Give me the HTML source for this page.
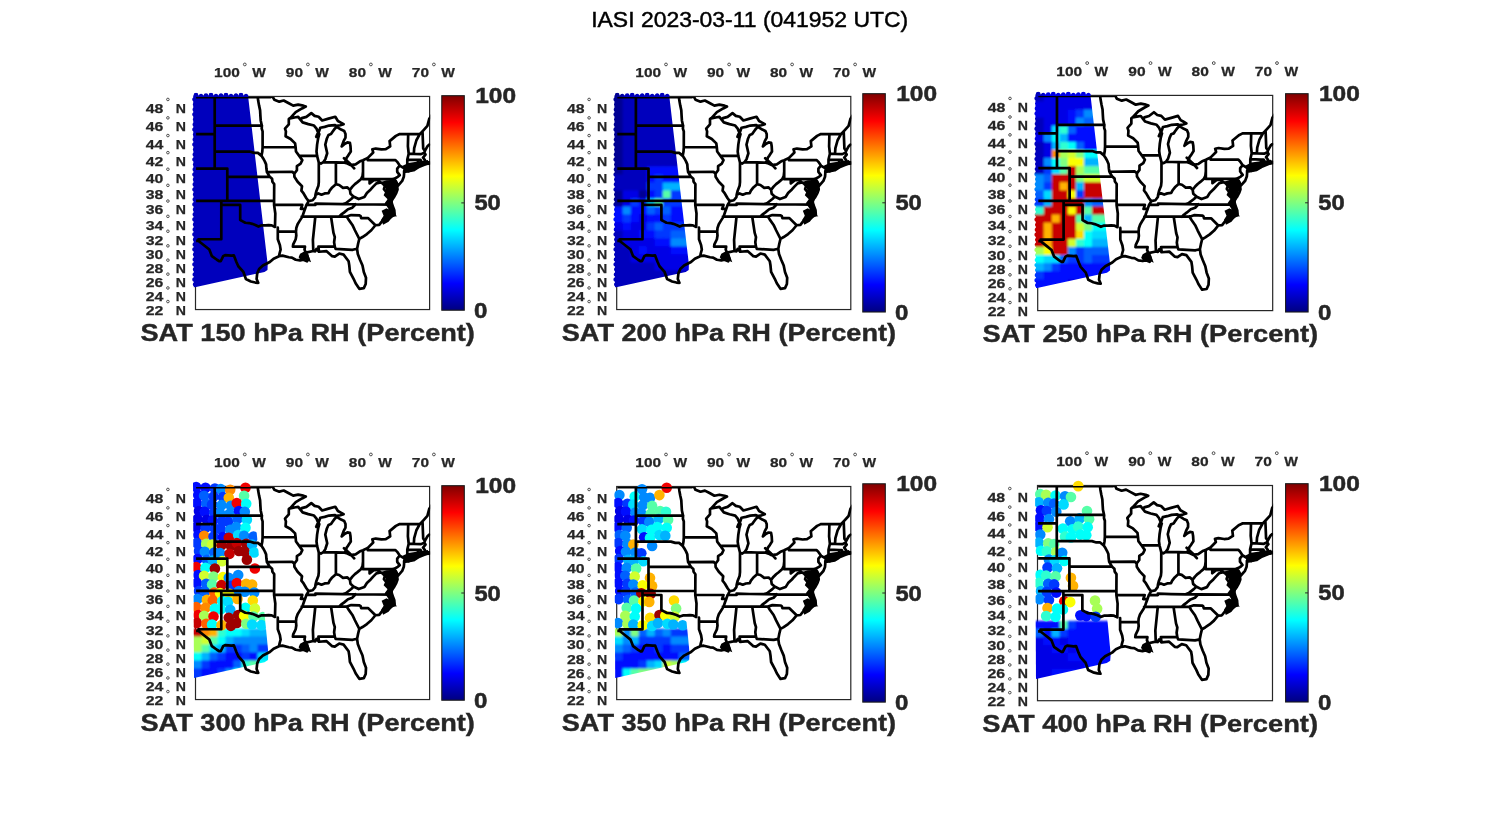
<!DOCTYPE html>
<html><head><meta charset="utf-8"><style>
html,body{margin:0;padding:0;background:#fff;}
svg{display:block;will-change:transform;}
text{font-family:"Liberation Sans",sans-serif;fill:#262626;}
.ax{font-size:13.4px;font-weight:bold;stroke:#262626;stroke-width:0.25px;}
.deg{font-size:7px;font-weight:normal;}
.cb{font-size:21.5px;font-weight:bold;stroke:#262626;stroke-width:0.5px;}
.st{font-size:24px;font-weight:bold;stroke:#262626;stroke-width:0.4px;}
.ti{font-size:22px;fill:#000;stroke:#000;stroke-width:0.45px;}
</style></head><body>
<svg width="1500" height="825" viewBox="0 0 1500 825">
<defs>
<clipPath id="swath"><path d="M-2.3 -1.0 L52.5 -1.0 L72.2 168 L72 173.5 L69 175.5 L-1.7 191 Z"/><path d="M-1.9 -1.3a2.4 2.4 0 1 0 4.8 0a2.4 2.4 0 1 0 -4.8 0ZM3.1 -0.3a2.4 2.4 0 1 0 4.8 0a2.4 2.4 0 1 0 -4.8 0ZM8.1 -0.8a2.4 2.4 0 1 0 4.8 0a2.4 2.4 0 1 0 -4.8 0ZM13.1 -1.3a2.4 2.4 0 1 0 4.8 0a2.4 2.4 0 1 0 -4.8 0ZM18.1 -0.3a2.4 2.4 0 1 0 4.8 0a2.4 2.4 0 1 0 -4.8 0ZM23.1 -0.8a2.4 2.4 0 1 0 4.8 0a2.4 2.4 0 1 0 -4.8 0ZM28.1 -1.3a2.4 2.4 0 1 0 4.8 0a2.4 2.4 0 1 0 -4.8 0ZM33.1 -0.3a2.4 2.4 0 1 0 4.8 0a2.4 2.4 0 1 0 -4.8 0ZM38.1 -0.8a2.4 2.4 0 1 0 4.8 0a2.4 2.4 0 1 0 -4.8 0ZM43.1 -1.3a2.4 2.4 0 1 0 4.8 0a2.4 2.4 0 1 0 -4.8 0ZM48.1 -0.3a2.4 2.4 0 1 0 4.8 0a2.4 2.4 0 1 0 -4.8 0ZM-3.3 3.0a2.3 2.3 0 1 0 4.6 0a2.3 2.3 0 1 0 -4.6 0ZM-2.7 8.0a2.3 2.3 0 1 0 4.6 0a2.3 2.3 0 1 0 -4.6 0ZM-3.0 13.0a2.3 2.3 0 1 0 4.6 0a2.3 2.3 0 1 0 -4.6 0ZM-3.3 18.0a2.3 2.3 0 1 0 4.6 0a2.3 2.3 0 1 0 -4.6 0ZM-2.7 23.0a2.3 2.3 0 1 0 4.6 0a2.3 2.3 0 1 0 -4.6 0ZM-3.0 28.0a2.3 2.3 0 1 0 4.6 0a2.3 2.3 0 1 0 -4.6 0ZM-3.3 33.0a2.3 2.3 0 1 0 4.6 0a2.3 2.3 0 1 0 -4.6 0ZM-2.7 38.0a2.3 2.3 0 1 0 4.6 0a2.3 2.3 0 1 0 -4.6 0ZM-3.0 43.0a2.3 2.3 0 1 0 4.6 0a2.3 2.3 0 1 0 -4.6 0ZM-3.3 48.0a2.3 2.3 0 1 0 4.6 0a2.3 2.3 0 1 0 -4.6 0ZM-2.7 53.0a2.3 2.3 0 1 0 4.6 0a2.3 2.3 0 1 0 -4.6 0ZM-3.0 58.0a2.3 2.3 0 1 0 4.6 0a2.3 2.3 0 1 0 -4.6 0ZM-3.3 63.0a2.3 2.3 0 1 0 4.6 0a2.3 2.3 0 1 0 -4.6 0ZM-2.7 68.0a2.3 2.3 0 1 0 4.6 0a2.3 2.3 0 1 0 -4.6 0ZM-3.0 73.0a2.3 2.3 0 1 0 4.6 0a2.3 2.3 0 1 0 -4.6 0ZM-3.3 78.0a2.3 2.3 0 1 0 4.6 0a2.3 2.3 0 1 0 -4.6 0ZM-2.7 83.0a2.3 2.3 0 1 0 4.6 0a2.3 2.3 0 1 0 -4.6 0ZM-3.0 88.0a2.3 2.3 0 1 0 4.6 0a2.3 2.3 0 1 0 -4.6 0ZM-3.3 93.0a2.3 2.3 0 1 0 4.6 0a2.3 2.3 0 1 0 -4.6 0ZM-2.7 98.0a2.3 2.3 0 1 0 4.6 0a2.3 2.3 0 1 0 -4.6 0ZM-3.0 103.0a2.3 2.3 0 1 0 4.6 0a2.3 2.3 0 1 0 -4.6 0ZM-3.3 108.0a2.3 2.3 0 1 0 4.6 0a2.3 2.3 0 1 0 -4.6 0ZM-2.7 113.0a2.3 2.3 0 1 0 4.6 0a2.3 2.3 0 1 0 -4.6 0ZM-3.0 118.0a2.3 2.3 0 1 0 4.6 0a2.3 2.3 0 1 0 -4.6 0ZM-3.3 123.0a2.3 2.3 0 1 0 4.6 0a2.3 2.3 0 1 0 -4.6 0ZM-2.7 128.0a2.3 2.3 0 1 0 4.6 0a2.3 2.3 0 1 0 -4.6 0ZM-3.0 133.0a2.3 2.3 0 1 0 4.6 0a2.3 2.3 0 1 0 -4.6 0ZM-3.3 138.0a2.3 2.3 0 1 0 4.6 0a2.3 2.3 0 1 0 -4.6 0ZM-2.7 143.0a2.3 2.3 0 1 0 4.6 0a2.3 2.3 0 1 0 -4.6 0ZM-3.0 148.0a2.3 2.3 0 1 0 4.6 0a2.3 2.3 0 1 0 -4.6 0ZM-3.3 153.0a2.3 2.3 0 1 0 4.6 0a2.3 2.3 0 1 0 -4.6 0ZM-2.7 158.0a2.3 2.3 0 1 0 4.6 0a2.3 2.3 0 1 0 -4.6 0ZM-3.0 163.0a2.3 2.3 0 1 0 4.6 0a2.3 2.3 0 1 0 -4.6 0ZM-3.3 168.0a2.3 2.3 0 1 0 4.6 0a2.3 2.3 0 1 0 -4.6 0ZM-2.7 173.0a2.3 2.3 0 1 0 4.6 0a2.3 2.3 0 1 0 -4.6 0ZM-3.0 178.0a2.3 2.3 0 1 0 4.6 0a2.3 2.3 0 1 0 -4.6 0ZM-3.3 183.0a2.3 2.3 0 1 0 4.6 0a2.3 2.3 0 1 0 -4.6 0ZM-2.7 188.0a2.3 2.3 0 1 0 4.6 0a2.3 2.3 0 1 0 -4.6 0Z"/></clipPath><clipPath id="swath2"><path d="M-2.5 -7 L56 -7 L73 168 L72.5 173.5 L69 175.8 L-1.5 191.5 Z"/></clipPath><filter id="bl" x="-10%" y="-10%" width="120%" height="120%"><feGaussianBlur stdDeviation="1.1"/></filter><filter id="bl2" x="-10%" y="-10%" width="120%" height="120%"><feGaussianBlur stdDeviation="0.6"/></filter>
<clipPath id="clip"><rect x="0" y="0" width="234.1" height="213.1"/></clipPath>
<linearGradient id="jet" x1="0" y1="0" x2="0" y2="1"><stop offset="0.0000" stop-color="rgb(128,0,0)"/><stop offset="0.1250" stop-color="rgb(255,0,0)"/><stop offset="0.3750" stop-color="rgb(255,255,0)"/><stop offset="0.6250" stop-color="rgb(0,255,255)"/><stop offset="0.8750" stop-color="rgb(0,0,255)"/><stop offset="1.0000" stop-color="rgb(0,0,128)"/></linearGradient>
<g id="map"><path d="M185.5 84.6 L190.5 83.1 L200.5 82.6 L202.0 85.6 L200.0 93.6 L198.0 100.6 L196.5 105.6 L199.5 117.1 L195.5 119.6 L192.0 111.1 L188.5 106.1 L191.5 102.1 L187.5 98.1 L190.0 92.6Z M206.5 68.8 L212.3 65.9 L231.7 63.0 L233.6 66.9 L222.0 71.7 L212.3 75.6 L207.5 73.6Z M104.0 156.6 L108.5 154.1 L112.0 157.1 L115.0 165.1 L109.5 162.6 L104.5 163.1 L102.5 160.1Z M185.5 113.6 L190.5 111.1 L196.0 114.6 L201.0 119.1 L196.5 119.6 L192.5 124.6 L187.0 127.6 L185.0 122.6 L187.5 118.6Z" fill="#000"/><path d="M0.0 0.0 L74.7 0.0 M18.6 0.0 L18.6 71.5 M0.0 37.0 L18.6 37.0 M0.0 71.5 L31.2 71.5 L31.2 79.8 M31.2 79.8 L73.7 79.8 M31.2 79.8 L31.2 103.9 M0.0 103.9 L78.0 103.9 M25.2 103.9 L25.2 142.2 L2.4 142.2 M25.2 107.9 L44.1 107.9 L44.1 122.9 M44.1 122.9 L46.6 124.3 L49.2 125.7 L52.9 126.0 L56.1 126.8 L59.2 127.9 L62.4 129.5 L65.6 128.3 L69.3 128.3 L72.5 128.1 L75.6 128.3 L78.9 129.9 M78.9 129.9 L79.2 116.4 L78.0 107.9 L78.0 103.9 L78.1 87.1 L76.3 84.7 L76.0 81.8 L73.7 79.8 M18.6 28.5 L65.8 28.5 M61.6 0.0 L62.1 3.8 L63.0 8.6 L64.0 13.3 L64.3 18.8 L64.6 23.4 L65.6 28.0 L65.8 28.5 M65.8 28.5 L65.6 31.6 L66.5 34.3 L66.5 50.2 M18.6 54.5 L53.6 54.5 L58.0 55.8 L61.8 55.8 L65.4 58.8 M65.4 58.8 L66.2 54.5 L66.5 50.2 M66.5 50.2 L99.5 50.2 M99.5 50.2 L99.0 46.3 L94.5 41.9 L89.5 39.2 L89.8 34.3 L88.9 31.6 L92.7 27.3 L92.7 22.1 L93.9 21.1 M65.4 58.8 L67.1 61.4 L68.7 64.3 L70.0 67.3 L70.3 71.5 L70.8 75.0 L73.7 79.8 M70.8 75.0 L96.2 74.7 L98.2 76.6 M99.5 50.2 L99.9 54.5 L103.1 58.8 L106.2 63.1 L104.6 66.5 L100.8 69.0 L100.8 73.2 L98.2 76.6 L98.3 79.8 L101.5 84.7 L105.9 89.2 L105.3 93.6 L107.5 96.4 L110.3 101.2 L112.5 104.1 M112.5 104.1 L110.9 107.1 L110.3 107.9 L109.0 111.8 L107.8 114.9 L106.5 118.8 L105.3 121.1 L103.4 124.1 L101.5 127.2 L100.2 131.0 L99.9 134.7 L100.2 138.5 L99.6 142.2 L97.1 147.4 L96.8 149.6 M78.0 107.9 L106.2 107.9 L104.8 111.8 L109.0 111.8 M81.7 130.6 L81.7 134.6 L99.9 134.6 M81.7 134.6 L81.7 142.2 L83.8 148.1 L84.5 152.5 L83.5 156.2 L82.9 159.1 M96.8 149.6 L108.9 149.6 L108.4 152.5 L109.7 155.6 M103.1 58.8 L121.0 58.8 M104.5 22.8 L106.5 25.3 L112.2 27.1 L117.9 28.5 L120.4 31.6 L122.3 36.1 M122.7 65.6 L122.7 85.1 L122.3 88.8 L120.4 93.6 L119.4 97.6 L119.1 100.0 L116.6 103.2 L112.5 104.1 M127.2 65.1 L139.9 65.4 L148.4 65.6 M139.8 65.4 L139.8 87.1 M119.4 97.6 L122.3 96.4 L125.4 97.6 L128.6 96.4 L132.4 96.0 L133.6 93.6 L136.1 90.4 L139.8 87.1 L143.1 87.9 L146.9 90.8 L151.3 90.4 L153.8 92.8 L156.3 89.6 L158.8 87.1 L161.4 85.1 L164.8 82.2 L166.4 79.0 L166.9 74.5 M166.9 63.2 L166.9 82.1 L173.5 82.1 M153.8 92.8 L154.4 96.8 L157.6 99.6 L155.1 102.0 L150.0 105.9 L147.0 107.1 M147.0 107.1 L132.4 106.9 L119.3 106.5 L119.3 107.9 L110.3 107.9 M147.0 107.1 L159.5 107.2 L196.2 107.5 M105.6 119.5 L143.1 119.5 L150.6 119.5 M143.1 119.5 L145.0 117.6 L148.1 115.3 L151.9 112.2 L156.3 110.6 L159.5 107.2 M118.5 119.5 L119.1 120.7 L116.8 142.9 L117.2 154.0 M134.9 119.5 L137.4 135.9 L138.7 140.0 L138.0 145.2 L138.7 149.6 L139.5 151.8 L156.3 152.8 L157.6 152.5 L161.0 151.8 M138.7 149.6 L122.3 149.6 L122.9 154.7 M150.6 119.5 L152.5 122.6 L156.3 127.9 L158.8 133.2 L163.2 141.8 M150.6 119.5 L155.1 118.0 L163.6 118.4 L164.5 119.1 L165.1 121.1 L172.1 121.1 L179.3 128.2 M157.8 99.7 L162.6 102.0 L168.3 100.0 L170.8 96.0 L174.6 92.4 L177.1 89.6 L180.3 86.3 L184.6 85.3 M184.6 85.3 L180.9 83.1 L177.7 83.1 L173.5 86.3 L173.5 82.1 M173.5 82.1 L196.7 82.1 M184.6 85.3 L186.3 86.3 L188.8 88.8 L187.8 92.0 L189.7 94.4 L193.5 96.0 M196.7 82.1 L196.7 92.4 L201.4 92.4 M196.7 82.1 L199.2 81.2 M199.2 81.2 L201.7 79.8 L203.6 78.1 L201.1 74.8 L201.1 71.5 L203.6 68.5 M171.7 60.8 L171.7 63.1 L199.4 63.1 L201.1 64.8 L203.6 68.5 M203.6 68.5 L208.6 71.5 M210.1 71.5 L211.2 69.0 L211.2 62.6 L212.6 56.7 L211.8 49.3 L212.1 37.0 M211.2 62.6 L221.9 62.9 L224.5 62.9 L226.2 67.3 M221.9 62.9 L221.9 68.7 M212.6 56.7 L217.7 56.8 L225.0 57.1 L228.2 55.6 M217.7 56.8 L218.1 51.1 L220.3 43.2 L223.8 36.9 M228.8 53.9 L227.1 51.5 L226.4 34.3 M203.6 37.0 L223.8 36.9 L226.4 34.3 L231.3 28.9 L233.2 21.6 L237.9 14.7 M203.6 37.0 L199.8 38.8 L193.5 44.1 M147.9 61.1 L153.8 66.5 L158.1 71.3 M193.5 44.1 L194.1 49.3 L189.7 52.1 L185.3 52.4 L179.6 51.5 L176.2 52.2 L177.1 55.4 L171.7 60.8 L166.9 63.2 L163.9 64.3 L159.5 67.3 L154.4 68.1 L151.3 66.5 L148.4 65.6 L150.0 63.1 L150.6 60.5 L151.9 58.8 L154.7 54.5 L154.4 49.3 L153.8 45.8 L151.3 45.4 L148.8 46.7 L145.6 49.3 L147.5 44.1 L149.4 40.5 L149.4 37.0 L148.1 33.9 L145.0 32.5 L140.6 29.8 L138.7 31.6 L136.1 35.2 L134.9 37.0 L132.4 37.9 L130.8 41.4 L129.2 47.6 L131.1 56.2 L129.2 62.2 L127.2 65.1 L124.8 66.5 L122.7 65.6 L122.3 63.9 L121.0 58.8 L120.4 54.5 L121.0 47.6 L122.0 41.4 L123.2 37.0 L121.6 37.4 L120.1 39.7 L121.3 37.0 L122.3 36.1 M122.3 36.1 L124.2 30.7 L128.6 29.8 L133.0 28.5 L138.7 28.0 L140.6 28.9 L144.3 28.2 L147.5 27.1 L144.3 25.3 L141.8 23.9 L139.2 19.7 L132.4 21.6 L126.1 23.4 L122.5 19.7 L118.5 18.8 L115.2 16.1 L110.3 19.8 L105.7 21.1 L104.5 22.8 L102.1 19.8 L99.6 20.2 L93.9 21.3 L99.6 15.1 L105.9 11.4 L109.7 9.5 L107.2 8.6 L102.1 7.6 L97.1 8.6 L92.7 6.2 L87.6 3.5 L83.2 4.6 L78.2 2.7 L76.8 0.0 M233.2 47.6 L231.6 48.9 L228.8 53.9 L228.2 55.6 L229.4 57.5 L226.9 60.5 L228.8 63.1 L229.4 65.2 L233.2 65.2 M233.2 66.5 L229.1 66.9 L226.2 67.3 L224.4 65.6 L223.8 68.3 L221.9 68.7 L217.5 69.2 L214.3 69.8 L210.1 71.5 L208.6 73.2 L208.0 74.0 L208.0 76.5 L207.7 79.8 L206.1 83.9 L202.0 88.5 L200.4 85.9 L198.2 83.1 L199.2 81.2 M208.3 74.8 L217.5 73.2 L221.2 70.9 L216.8 71.5 L213.7 71.9 L209.3 72.7 L208.3 74.8 M198.2 83.1 L199.2 85.5 L201.1 89.6 L201.4 92.4 L200.1 96.0 L197.9 100.0 L195.7 102.8 L196.0 99.2 L195.4 94.4 L193.5 91.2 L194.1 87.9 L195.4 84.3 L192.9 85.5 L192.2 88.8 L192.9 93.6 L193.5 96.0 L193.5 99.2 L192.9 103.2 L195.4 104.6 L196.0 107.5 L198.2 113.3 L198.5 117.6 L195.4 119.5 L192.2 121.8 L186.6 123.4 L183.1 127.9 L179.3 128.2 L175.2 133.2 L170.8 137.0 L166.4 140.0 L163.2 141.8 L162.0 146.7 L161.0 151.8 L161.7 156.9 L163.9 162.7 L166.4 168.5 L167.7 174.9 L169.9 180.6 L169.6 186.9 L167.7 191.1 L163.2 191.8 L159.5 186.2 L157.6 182.0 L153.8 174.9 L153.2 168.5 L152.5 164.2 L147.5 157.6 L143.1 156.5 L138.7 159.5 L136.1 159.1 L130.5 154.1 L122.9 154.7 L120.4 151.8 L119.1 154.4 L117.2 154.0 L109.7 155.6 L110.9 157.6 L112.2 162.0 L110.9 164.2 L107.2 162.7 L104.0 163.4 L99.6 162.7 L95.8 160.5 L92.7 160.2 L86.4 158.6 L82.9 159.1 L77.5 161.6 L73.7 164.9 L66.8 168.5 L63.0 172.0 L61.1 176.3 L60.5 182.0 L62.1 185.8 L59.2 185.5 L54.8 184.4 L49.8 182.0 L47.3 174.9 L42.2 169.2 L40.3 164.9 L37.8 158.4 L35.3 158.6 L29.0 158.0 L27.1 159.1 L24.6 164.2 L23.3 164.2 L20.8 162.7 L15.8 159.1 L13.2 152.5 L8.8 148.9 L5.0 145.9 L2.4 143.8 L0.0 143.8" fill="none" stroke="#000" stroke-width="2.7" stroke-linejoin="round" stroke-linecap="round"/></g>
</defs>
<rect width="1500" height="825" fill="#fff"/>
<text class="ti" x="591.2" y="26.6" textLength="317" lengthAdjust="spacingAndGlyphs">IASI 2023-03-11 (041952 UTC)</text>
<g transform="translate(195.50 96.45) scale(1.0000 1.0000)">
<rect x="0" y="0" width="234.1" height="213.1" fill="none" stroke="#262626" stroke-width="1.2"/>
<g clip-path="url(#swath)"><g filter="url(#bl)"><rect x="-10" y="-10" width="9" height="9" fill="#0000bd"/><rect x="-2" y="-10" width="9" height="9" fill="#0000bd"/><rect x="6" y="-10" width="9" height="9" fill="#0000bd"/><rect x="14" y="-10" width="9" height="9" fill="#0000bd"/><rect x="22" y="-10" width="9" height="9" fill="#0000bd"/><rect x="30" y="-10" width="9" height="9" fill="#0000bd"/><rect x="38" y="-10" width="9" height="9" fill="#0000bd"/><rect x="46" y="-10" width="9" height="9" fill="#0000bd"/><rect x="54" y="-10" width="9" height="9" fill="#0000bd"/><rect x="62" y="-10" width="9" height="9" fill="#0000bd"/><rect x="70" y="-10" width="9" height="9" fill="#0000bd"/><rect x="78" y="-10" width="9" height="9" fill="#0000bd"/><rect x="86" y="-10" width="9" height="9" fill="#0000bd"/><rect x="94" y="-10" width="9" height="9" fill="#0000bd"/><rect x="-10" y="-2" width="9" height="9" fill="#0000bd"/><rect x="-2" y="-2" width="9" height="9" fill="#0000bd"/><rect x="6" y="-2" width="9" height="9" fill="#0000bd"/><rect x="14" y="-2" width="9" height="9" fill="#0000bd"/><rect x="22" y="-2" width="9" height="9" fill="#0000bd"/><rect x="30" y="-2" width="9" height="9" fill="#0000bd"/><rect x="38" y="-2" width="9" height="9" fill="#0000bd"/><rect x="46" y="-2" width="9" height="9" fill="#0000bd"/><rect x="54" y="-2" width="9" height="9" fill="#0000bd"/><rect x="62" y="-2" width="9" height="9" fill="#0000bd"/><rect x="70" y="-2" width="9" height="9" fill="#0000bd"/><rect x="78" y="-2" width="9" height="9" fill="#0000bd"/><rect x="86" y="-2" width="9" height="9" fill="#0000bd"/><rect x="94" y="-2" width="9" height="9" fill="#0000bd"/><rect x="-10" y="6" width="9" height="9" fill="#0000bd"/><rect x="-2" y="6" width="9" height="9" fill="#0000bd"/><rect x="6" y="6" width="9" height="9" fill="#0000bd"/><rect x="14" y="6" width="9" height="9" fill="#0000bd"/><rect x="22" y="6" width="9" height="9" fill="#0000bd"/><rect x="30" y="6" width="9" height="9" fill="#0000bd"/><rect x="38" y="6" width="9" height="9" fill="#0000bd"/><rect x="46" y="6" width="9" height="9" fill="#0000bd"/><rect x="54" y="6" width="9" height="9" fill="#0000bd"/><rect x="62" y="6" width="9" height="9" fill="#0000bd"/><rect x="70" y="6" width="9" height="9" fill="#0000bd"/><rect x="78" y="6" width="9" height="9" fill="#0000bd"/><rect x="86" y="6" width="9" height="9" fill="#0000bd"/><rect x="94" y="6" width="9" height="9" fill="#0000bd"/><rect x="-10" y="14" width="9" height="9" fill="#0000bd"/><rect x="-2" y="14" width="9" height="9" fill="#0000bd"/><rect x="6" y="14" width="9" height="9" fill="#0000bd"/><rect x="14" y="14" width="9" height="9" fill="#0000bd"/><rect x="22" y="14" width="9" height="9" fill="#0000bd"/><rect x="30" y="14" width="9" height="9" fill="#0000bd"/><rect x="38" y="14" width="9" height="9" fill="#0000bd"/><rect x="46" y="14" width="9" height="9" fill="#0000bd"/><rect x="54" y="14" width="9" height="9" fill="#0000bd"/><rect x="62" y="14" width="9" height="9" fill="#0000bd"/><rect x="70" y="14" width="9" height="9" fill="#0000bd"/><rect x="78" y="14" width="9" height="9" fill="#0000bd"/><rect x="86" y="14" width="9" height="9" fill="#0000bd"/><rect x="94" y="14" width="9" height="9" fill="#0000bd"/><rect x="-10" y="22" width="9" height="9" fill="#0000bd"/><rect x="-2" y="22" width="9" height="9" fill="#0000bd"/><rect x="6" y="22" width="9" height="9" fill="#0000bd"/><rect x="14" y="22" width="9" height="9" fill="#0000bd"/><rect x="22" y="22" width="9" height="9" fill="#0000bd"/><rect x="30" y="22" width="9" height="9" fill="#0000bd"/><rect x="38" y="22" width="9" height="9" fill="#0000bd"/><rect x="46" y="22" width="9" height="9" fill="#0000bd"/><rect x="54" y="22" width="9" height="9" fill="#0000bd"/><rect x="62" y="22" width="9" height="9" fill="#0000bd"/><rect x="70" y="22" width="9" height="9" fill="#0000bd"/><rect x="78" y="22" width="9" height="9" fill="#0000bd"/><rect x="86" y="22" width="9" height="9" fill="#0000bd"/><rect x="94" y="22" width="9" height="9" fill="#0000bd"/><rect x="-10" y="30" width="9" height="9" fill="#0000bd"/><rect x="-2" y="30" width="9" height="9" fill="#0000bd"/><rect x="6" y="30" width="9" height="9" fill="#0000bd"/><rect x="14" y="30" width="9" height="9" fill="#0000bd"/><rect x="22" y="30" width="9" height="9" fill="#0000bd"/><rect x="30" y="30" width="9" height="9" fill="#0000bd"/><rect x="38" y="30" width="9" height="9" fill="#0000bd"/><rect x="46" y="30" width="9" height="9" fill="#0000bd"/><rect x="54" y="30" width="9" height="9" fill="#0000bd"/><rect x="62" y="30" width="9" height="9" fill="#0000bd"/><rect x="70" y="30" width="9" height="9" fill="#0000bd"/><rect x="78" y="30" width="9" height="9" fill="#0000bd"/><rect x="86" y="30" width="9" height="9" fill="#0000bd"/><rect x="94" y="30" width="9" height="9" fill="#0000bd"/><rect x="-10" y="38" width="9" height="9" fill="#0000bd"/><rect x="-2" y="38" width="9" height="9" fill="#0000bd"/><rect x="6" y="38" width="9" height="9" fill="#0000bd"/><rect x="14" y="38" width="9" height="9" fill="#0000bd"/><rect x="22" y="38" width="9" height="9" fill="#0000bd"/><rect x="30" y="38" width="9" height="9" fill="#0000bd"/><rect x="38" y="38" width="9" height="9" fill="#0000bd"/><rect x="46" y="38" width="9" height="9" fill="#0000bd"/><rect x="54" y="38" width="9" height="9" fill="#0000bd"/><rect x="62" y="38" width="9" height="9" fill="#0000bd"/><rect x="70" y="38" width="9" height="9" fill="#0000bd"/><rect x="78" y="38" width="9" height="9" fill="#0000bd"/><rect x="86" y="38" width="9" height="9" fill="#0000bd"/><rect x="94" y="38" width="9" height="9" fill="#0000bd"/><rect x="-10" y="46" width="9" height="9" fill="#0000bd"/><rect x="-2" y="46" width="9" height="9" fill="#0000bd"/><rect x="6" y="46" width="9" height="9" fill="#0000bd"/><rect x="14" y="46" width="9" height="9" fill="#0000bd"/><rect x="22" y="46" width="9" height="9" fill="#0000bd"/><rect x="30" y="46" width="9" height="9" fill="#0000bd"/><rect x="38" y="46" width="9" height="9" fill="#0000bd"/><rect x="46" y="46" width="9" height="9" fill="#0000bd"/><rect x="54" y="46" width="9" height="9" fill="#0000bd"/><rect x="62" y="46" width="9" height="9" fill="#0000bd"/><rect x="70" y="46" width="9" height="9" fill="#0000bd"/><rect x="78" y="46" width="9" height="9" fill="#0000bd"/><rect x="86" y="46" width="9" height="9" fill="#0000bd"/><rect x="94" y="46" width="9" height="9" fill="#0000bd"/><rect x="-10" y="54" width="9" height="9" fill="#0000bd"/><rect x="-2" y="54" width="9" height="9" fill="#0000bd"/><rect x="6" y="54" width="9" height="9" fill="#0000bd"/><rect x="14" y="54" width="9" height="9" fill="#0000bd"/><rect x="22" y="54" width="9" height="9" fill="#0000bd"/><rect x="30" y="54" width="9" height="9" fill="#0000bd"/><rect x="38" y="54" width="9" height="9" fill="#0000bd"/><rect x="46" y="54" width="9" height="9" fill="#0000bd"/><rect x="54" y="54" width="9" height="9" fill="#0000bd"/><rect x="62" y="54" width="9" height="9" fill="#0000bd"/><rect x="70" y="54" width="9" height="9" fill="#0000bd"/><rect x="78" y="54" width="9" height="9" fill="#0000bd"/><rect x="86" y="54" width="9" height="9" fill="#0000bd"/><rect x="94" y="54" width="9" height="9" fill="#0000bd"/><rect x="-10" y="62" width="9" height="9" fill="#0000bd"/><rect x="-2" y="62" width="9" height="9" fill="#0000bd"/><rect x="6" y="62" width="9" height="9" fill="#0000bd"/><rect x="14" y="62" width="9" height="9" fill="#0000bd"/><rect x="22" y="62" width="9" height="9" fill="#0000bd"/><rect x="30" y="62" width="9" height="9" fill="#0000bd"/><rect x="38" y="62" width="9" height="9" fill="#0000bd"/><rect x="46" y="62" width="9" height="9" fill="#0000bd"/><rect x="54" y="62" width="9" height="9" fill="#0000bd"/><rect x="62" y="62" width="9" height="9" fill="#0000bd"/><rect x="70" y="62" width="9" height="9" fill="#0000bd"/><rect x="78" y="62" width="9" height="9" fill="#0000bd"/><rect x="86" y="62" width="9" height="9" fill="#0000bd"/><rect x="94" y="62" width="9" height="9" fill="#0000bd"/><rect x="-10" y="70" width="9" height="9" fill="#0000bd"/><rect x="-2" y="70" width="9" height="9" fill="#0000bd"/><rect x="6" y="70" width="9" height="9" fill="#0000bd"/><rect x="14" y="70" width="9" height="9" fill="#0000bd"/><rect x="22" y="70" width="9" height="9" fill="#0000bd"/><rect x="30" y="70" width="9" height="9" fill="#0000bd"/><rect x="38" y="70" width="9" height="9" fill="#0000bd"/><rect x="46" y="70" width="9" height="9" fill="#0000bd"/><rect x="54" y="70" width="9" height="9" fill="#0000bd"/><rect x="62" y="70" width="9" height="9" fill="#0000bd"/><rect x="70" y="70" width="9" height="9" fill="#0000bd"/><rect x="78" y="70" width="9" height="9" fill="#0000bd"/><rect x="86" y="70" width="9" height="9" fill="#0000bd"/><rect x="94" y="70" width="9" height="9" fill="#0000bd"/><rect x="-10" y="78" width="9" height="9" fill="#0000bd"/><rect x="-2" y="78" width="9" height="9" fill="#0000bd"/><rect x="6" y="78" width="9" height="9" fill="#0000bd"/><rect x="14" y="78" width="9" height="9" fill="#0000bd"/><rect x="22" y="78" width="9" height="9" fill="#0000bd"/><rect x="30" y="78" width="9" height="9" fill="#0000bd"/><rect x="38" y="78" width="9" height="9" fill="#0000bd"/><rect x="46" y="78" width="9" height="9" fill="#0000bd"/><rect x="54" y="78" width="9" height="9" fill="#0000bd"/><rect x="62" y="78" width="9" height="9" fill="#0000bd"/><rect x="70" y="78" width="9" height="9" fill="#0000bd"/><rect x="78" y="78" width="9" height="9" fill="#0000bd"/><rect x="86" y="78" width="9" height="9" fill="#0000bd"/><rect x="94" y="78" width="9" height="9" fill="#0000bd"/><rect x="-10" y="86" width="9" height="9" fill="#0000bd"/><rect x="-2" y="86" width="9" height="9" fill="#0000bd"/><rect x="6" y="86" width="9" height="9" fill="#0000bd"/><rect x="14" y="86" width="9" height="9" fill="#0000bd"/><rect x="22" y="86" width="9" height="9" fill="#0000bd"/><rect x="30" y="86" width="9" height="9" fill="#0000bd"/><rect x="38" y="86" width="9" height="9" fill="#0000bd"/><rect x="46" y="86" width="9" height="9" fill="#0000bd"/><rect x="54" y="86" width="9" height="9" fill="#0000bd"/><rect x="62" y="86" width="9" height="9" fill="#0000bd"/><rect x="70" y="86" width="9" height="9" fill="#0000bd"/><rect x="78" y="86" width="9" height="9" fill="#0000bd"/><rect x="86" y="86" width="9" height="9" fill="#0000bd"/><rect x="94" y="86" width="9" height="9" fill="#0000bd"/><rect x="-10" y="94" width="9" height="9" fill="#0000bd"/><rect x="-2" y="94" width="9" height="9" fill="#0000bd"/><rect x="6" y="94" width="9" height="9" fill="#0000bd"/><rect x="14" y="94" width="9" height="9" fill="#0000bd"/><rect x="22" y="94" width="9" height="9" fill="#0000bd"/><rect x="30" y="94" width="9" height="9" fill="#0000bd"/><rect x="38" y="94" width="9" height="9" fill="#0000bd"/><rect x="46" y="94" width="9" height="9" fill="#0000bd"/><rect x="54" y="94" width="9" height="9" fill="#0000bd"/><rect x="62" y="94" width="9" height="9" fill="#0000bd"/><rect x="70" y="94" width="9" height="9" fill="#0000bd"/><rect x="78" y="94" width="9" height="9" fill="#0000bd"/><rect x="86" y="94" width="9" height="9" fill="#0000bd"/><rect x="94" y="94" width="9" height="9" fill="#0000bd"/><rect x="-10" y="102" width="9" height="9" fill="#0000bd"/><rect x="-2" y="102" width="9" height="9" fill="#0000bd"/><rect x="6" y="102" width="9" height="9" fill="#0000bd"/><rect x="14" y="102" width="9" height="9" fill="#0000bd"/><rect x="22" y="102" width="9" height="9" fill="#0000bd"/><rect x="30" y="102" width="9" height="9" fill="#0000bd"/><rect x="38" y="102" width="9" height="9" fill="#0000bd"/><rect x="46" y="102" width="9" height="9" fill="#0000bd"/><rect x="54" y="102" width="9" height="9" fill="#0000bd"/><rect x="62" y="102" width="9" height="9" fill="#0000bd"/><rect x="70" y="102" width="9" height="9" fill="#0000bd"/><rect x="78" y="102" width="9" height="9" fill="#0000bd"/><rect x="86" y="102" width="9" height="9" fill="#0000bd"/><rect x="94" y="102" width="9" height="9" fill="#0000bd"/><rect x="-10" y="110" width="9" height="9" fill="#0000bd"/><rect x="-2" y="110" width="9" height="9" fill="#0000bd"/><rect x="6" y="110" width="9" height="9" fill="#0000bd"/><rect x="14" y="110" width="9" height="9" fill="#0000bd"/><rect x="22" y="110" width="9" height="9" fill="#0000bd"/><rect x="30" y="110" width="9" height="9" fill="#0000bd"/><rect x="38" y="110" width="9" height="9" fill="#0000bd"/><rect x="46" y="110" width="9" height="9" fill="#0000bd"/><rect x="54" y="110" width="9" height="9" fill="#0000bd"/><rect x="62" y="110" width="9" height="9" fill="#0000bd"/><rect x="70" y="110" width="9" height="9" fill="#0000bd"/><rect x="78" y="110" width="9" height="9" fill="#0000bd"/><rect x="86" y="110" width="9" height="9" fill="#0000bd"/><rect x="94" y="110" width="9" height="9" fill="#0000bd"/><rect x="-10" y="118" width="9" height="9" fill="#0000bd"/><rect x="-2" y="118" width="9" height="9" fill="#0000bd"/><rect x="6" y="118" width="9" height="9" fill="#0000bd"/><rect x="14" y="118" width="9" height="9" fill="#0000bd"/><rect x="22" y="118" width="9" height="9" fill="#0000bd"/><rect x="30" y="118" width="9" height="9" fill="#0000bd"/><rect x="38" y="118" width="9" height="9" fill="#0000bd"/><rect x="46" y="118" width="9" height="9" fill="#0000bd"/><rect x="54" y="118" width="9" height="9" fill="#0000bd"/><rect x="62" y="118" width="9" height="9" fill="#0000bd"/><rect x="70" y="118" width="9" height="9" fill="#0000bd"/><rect x="78" y="118" width="9" height="9" fill="#0000bd"/><rect x="86" y="118" width="9" height="9" fill="#0000bd"/><rect x="94" y="118" width="9" height="9" fill="#0000bd"/><rect x="-10" y="126" width="9" height="9" fill="#0000bd"/><rect x="-2" y="126" width="9" height="9" fill="#0000bd"/><rect x="6" y="126" width="9" height="9" fill="#0000bd"/><rect x="14" y="126" width="9" height="9" fill="#0000bd"/><rect x="22" y="126" width="9" height="9" fill="#0000bd"/><rect x="30" y="126" width="9" height="9" fill="#0000bd"/><rect x="38" y="126" width="9" height="9" fill="#0000bd"/><rect x="46" y="126" width="9" height="9" fill="#0000bd"/><rect x="54" y="126" width="9" height="9" fill="#0000bd"/><rect x="62" y="126" width="9" height="9" fill="#0000bd"/><rect x="70" y="126" width="9" height="9" fill="#0000bd"/><rect x="78" y="126" width="9" height="9" fill="#0000bd"/><rect x="86" y="126" width="9" height="9" fill="#0000bd"/><rect x="94" y="126" width="9" height="9" fill="#0000bd"/><rect x="-10" y="134" width="9" height="9" fill="#0000bd"/><rect x="-2" y="134" width="9" height="9" fill="#0000bd"/><rect x="6" y="134" width="9" height="9" fill="#0000bd"/><rect x="14" y="134" width="9" height="9" fill="#0000bd"/><rect x="22" y="134" width="9" height="9" fill="#0000bd"/><rect x="30" y="134" width="9" height="9" fill="#0000bd"/><rect x="38" y="134" width="9" height="9" fill="#0000bd"/><rect x="46" y="134" width="9" height="9" fill="#0000bd"/><rect x="54" y="134" width="9" height="9" fill="#0000bd"/><rect x="62" y="134" width="9" height="9" fill="#0000bd"/><rect x="70" y="134" width="9" height="9" fill="#0000bd"/><rect x="78" y="134" width="9" height="9" fill="#0000bd"/><rect x="86" y="134" width="9" height="9" fill="#0000bd"/><rect x="94" y="134" width="9" height="9" fill="#0000bd"/><rect x="-10" y="142" width="9" height="9" fill="#0000bd"/><rect x="-2" y="142" width="9" height="9" fill="#0000bd"/><rect x="6" y="142" width="9" height="9" fill="#0000bd"/><rect x="14" y="142" width="9" height="9" fill="#0000bd"/><rect x="22" y="142" width="9" height="9" fill="#0000bd"/><rect x="30" y="142" width="9" height="9" fill="#0000bd"/><rect x="38" y="142" width="9" height="9" fill="#0000bd"/><rect x="46" y="142" width="9" height="9" fill="#0000bd"/><rect x="54" y="142" width="9" height="9" fill="#0000bd"/><rect x="62" y="142" width="9" height="9" fill="#0000bd"/><rect x="70" y="142" width="9" height="9" fill="#0000bd"/><rect x="78" y="142" width="9" height="9" fill="#0000bd"/><rect x="86" y="142" width="9" height="9" fill="#0000bd"/><rect x="94" y="142" width="9" height="9" fill="#0000bd"/><rect x="-10" y="150" width="9" height="9" fill="#0000bd"/><rect x="-2" y="150" width="9" height="9" fill="#0000bd"/><rect x="6" y="150" width="9" height="9" fill="#0000bd"/><rect x="14" y="150" width="9" height="9" fill="#0000bd"/><rect x="22" y="150" width="9" height="9" fill="#0000bd"/><rect x="30" y="150" width="9" height="9" fill="#0000bd"/><rect x="38" y="150" width="9" height="9" fill="#0000bd"/><rect x="46" y="150" width="9" height="9" fill="#0000bd"/><rect x="54" y="150" width="9" height="9" fill="#0000bd"/><rect x="62" y="150" width="9" height="9" fill="#0000bd"/><rect x="70" y="150" width="9" height="9" fill="#0000bd"/><rect x="78" y="150" width="9" height="9" fill="#0000bd"/><rect x="86" y="150" width="9" height="9" fill="#0000bd"/><rect x="94" y="150" width="9" height="9" fill="#0000bd"/><rect x="-10" y="158" width="9" height="9" fill="#0000bd"/><rect x="-2" y="158" width="9" height="9" fill="#0000bd"/><rect x="6" y="158" width="9" height="9" fill="#0000bd"/><rect x="14" y="158" width="9" height="9" fill="#0000bd"/><rect x="22" y="158" width="9" height="9" fill="#0000bd"/><rect x="30" y="158" width="9" height="9" fill="#0000bd"/><rect x="38" y="158" width="9" height="9" fill="#0000bd"/><rect x="46" y="158" width="9" height="9" fill="#0000bd"/><rect x="54" y="158" width="9" height="9" fill="#0000bd"/><rect x="62" y="158" width="9" height="9" fill="#0000bd"/><rect x="70" y="158" width="9" height="9" fill="#0000bd"/><rect x="78" y="158" width="9" height="9" fill="#0000bd"/><rect x="86" y="158" width="9" height="9" fill="#0000bd"/><rect x="94" y="158" width="9" height="9" fill="#0000bd"/><rect x="-10" y="166" width="9" height="9" fill="#0000bd"/><rect x="-2" y="166" width="9" height="9" fill="#0000bd"/><rect x="6" y="166" width="9" height="9" fill="#0000bd"/><rect x="14" y="166" width="9" height="9" fill="#0000bd"/><rect x="22" y="166" width="9" height="9" fill="#0000bd"/><rect x="30" y="166" width="9" height="9" fill="#0000bd"/><rect x="38" y="166" width="9" height="9" fill="#0000bd"/><rect x="46" y="166" width="9" height="9" fill="#0000bd"/><rect x="54" y="166" width="9" height="9" fill="#0000bd"/><rect x="62" y="166" width="9" height="9" fill="#0000bd"/><rect x="70" y="166" width="9" height="9" fill="#0000bd"/><rect x="78" y="166" width="9" height="9" fill="#0000bd"/><rect x="86" y="166" width="9" height="9" fill="#0000bd"/><rect x="94" y="166" width="9" height="9" fill="#0000bd"/><rect x="-10" y="174" width="9" height="9" fill="#0000bd"/><rect x="-2" y="174" width="9" height="9" fill="#0000bd"/><rect x="6" y="174" width="9" height="9" fill="#0000bd"/><rect x="14" y="174" width="9" height="9" fill="#0000bd"/><rect x="22" y="174" width="9" height="9" fill="#0000bd"/><rect x="30" y="174" width="9" height="9" fill="#0000bd"/><rect x="38" y="174" width="9" height="9" fill="#0000bd"/><rect x="46" y="174" width="9" height="9" fill="#0000bd"/><rect x="54" y="174" width="9" height="9" fill="#0000bd"/><rect x="62" y="174" width="9" height="9" fill="#0000bd"/><rect x="70" y="174" width="9" height="9" fill="#0000bd"/><rect x="78" y="174" width="9" height="9" fill="#0000bd"/><rect x="86" y="174" width="9" height="9" fill="#0000bd"/><rect x="94" y="174" width="9" height="9" fill="#0000bd"/><rect x="-10" y="182" width="9" height="9" fill="#0000bd"/><rect x="-2" y="182" width="9" height="9" fill="#0000bd"/><rect x="6" y="182" width="9" height="9" fill="#0000bd"/><rect x="14" y="182" width="9" height="9" fill="#0000bd"/><rect x="22" y="182" width="9" height="9" fill="#0000bd"/><rect x="30" y="182" width="9" height="9" fill="#0000bd"/><rect x="38" y="182" width="9" height="9" fill="#0000bd"/><rect x="46" y="182" width="9" height="9" fill="#0000bd"/><rect x="54" y="182" width="9" height="9" fill="#0000bd"/><rect x="62" y="182" width="9" height="9" fill="#0000bd"/><rect x="70" y="182" width="9" height="9" fill="#0000bd"/><rect x="78" y="182" width="9" height="9" fill="#0000bd"/><rect x="86" y="182" width="9" height="9" fill="#0000bd"/><rect x="94" y="182" width="9" height="9" fill="#0000bd"/><rect x="-10" y="190" width="9" height="9" fill="#0000bd"/><rect x="-2" y="190" width="9" height="9" fill="#0000bd"/><rect x="6" y="190" width="9" height="9" fill="#0000bd"/><rect x="14" y="190" width="9" height="9" fill="#0000bd"/><rect x="22" y="190" width="9" height="9" fill="#0000bd"/><rect x="30" y="190" width="9" height="9" fill="#0000bd"/><rect x="38" y="190" width="9" height="9" fill="#0000bd"/><rect x="46" y="190" width="9" height="9" fill="#0000bd"/><rect x="54" y="190" width="9" height="9" fill="#0000bd"/><rect x="62" y="190" width="9" height="9" fill="#0000bd"/><rect x="70" y="190" width="9" height="9" fill="#0000bd"/><rect x="78" y="190" width="9" height="9" fill="#0000bd"/><rect x="86" y="190" width="9" height="9" fill="#0000bd"/><rect x="94" y="190" width="9" height="9" fill="#0000bd"/><rect x="-10" y="198" width="9" height="9" fill="#0000bd"/><rect x="-2" y="198" width="9" height="9" fill="#0000bd"/><rect x="6" y="198" width="9" height="9" fill="#0000bd"/><rect x="14" y="198" width="9" height="9" fill="#0000bd"/><rect x="22" y="198" width="9" height="9" fill="#0000bd"/><rect x="30" y="198" width="9" height="9" fill="#0000bd"/><rect x="38" y="198" width="9" height="9" fill="#0000bd"/><rect x="46" y="198" width="9" height="9" fill="#0000bd"/><rect x="54" y="198" width="9" height="9" fill="#0000bd"/><rect x="62" y="198" width="9" height="9" fill="#0000bd"/><rect x="70" y="198" width="9" height="9" fill="#0000bd"/><rect x="78" y="198" width="9" height="9" fill="#0000bd"/><rect x="86" y="198" width="9" height="9" fill="#0000bd"/><rect x="94" y="198" width="9" height="9" fill="#0000bd"/></g><g filter="url(#bl2)"></g></g>
<g transform="translate(0.6 0.6)"><use href="#map" clip-path="url(#clip)"/></g>
<text class="ax" x="-32.2" y="218.4" text-anchor="end" textLength="17.6" lengthAdjust="spacingAndGlyphs">22</text>
<circle cx="-27.6" cy="205.1" r="1.3" fill="none" stroke="#262626" stroke-width="0.8"/>
<text class="ax" x="-19.8" y="218.4" textLength="10.2" lengthAdjust="spacingAndGlyphs">N</text>
<text class="ax" x="-32.2" y="204.8" text-anchor="end" textLength="17.6" lengthAdjust="spacingAndGlyphs">24</text>
<circle cx="-27.6" cy="191.5" r="1.3" fill="none" stroke="#262626" stroke-width="0.8"/>
<text class="ax" x="-19.8" y="204.8" textLength="10.2" lengthAdjust="spacingAndGlyphs">N</text>
<text class="ax" x="-32.2" y="191.0" text-anchor="end" textLength="17.6" lengthAdjust="spacingAndGlyphs">26</text>
<circle cx="-27.6" cy="177.7" r="1.3" fill="none" stroke="#262626" stroke-width="0.8"/>
<text class="ax" x="-19.8" y="191.0" textLength="10.2" lengthAdjust="spacingAndGlyphs">N</text>
<text class="ax" x="-32.2" y="177.0" text-anchor="end" textLength="17.6" lengthAdjust="spacingAndGlyphs">28</text>
<circle cx="-27.6" cy="163.7" r="1.3" fill="none" stroke="#262626" stroke-width="0.8"/>
<text class="ax" x="-19.8" y="177.0" textLength="10.2" lengthAdjust="spacingAndGlyphs">N</text>
<text class="ax" x="-32.2" y="162.7" text-anchor="end" textLength="17.6" lengthAdjust="spacingAndGlyphs">30</text>
<circle cx="-27.6" cy="149.4" r="1.3" fill="none" stroke="#262626" stroke-width="0.8"/>
<text class="ax" x="-19.8" y="162.7" textLength="10.2" lengthAdjust="spacingAndGlyphs">N</text>
<text class="ax" x="-32.2" y="148.1" text-anchor="end" textLength="17.6" lengthAdjust="spacingAndGlyphs">32</text>
<circle cx="-27.6" cy="134.8" r="1.3" fill="none" stroke="#262626" stroke-width="0.8"/>
<text class="ax" x="-19.8" y="148.1" textLength="10.2" lengthAdjust="spacingAndGlyphs">N</text>
<text class="ax" x="-32.2" y="133.2" text-anchor="end" textLength="17.6" lengthAdjust="spacingAndGlyphs">34</text>
<circle cx="-27.6" cy="119.9" r="1.3" fill="none" stroke="#262626" stroke-width="0.8"/>
<text class="ax" x="-19.8" y="133.2" textLength="10.2" lengthAdjust="spacingAndGlyphs">N</text>
<text class="ax" x="-32.2" y="117.9" text-anchor="end" textLength="17.6" lengthAdjust="spacingAndGlyphs">36</text>
<circle cx="-27.6" cy="104.6" r="1.3" fill="none" stroke="#262626" stroke-width="0.8"/>
<text class="ax" x="-19.8" y="117.9" textLength="10.2" lengthAdjust="spacingAndGlyphs">N</text>
<text class="ax" x="-32.2" y="102.2" text-anchor="end" textLength="17.6" lengthAdjust="spacingAndGlyphs">38</text>
<circle cx="-27.6" cy="88.9" r="1.3" fill="none" stroke="#262626" stroke-width="0.8"/>
<text class="ax" x="-19.8" y="102.2" textLength="10.2" lengthAdjust="spacingAndGlyphs">N</text>
<text class="ax" x="-32.2" y="86.1" text-anchor="end" textLength="17.6" lengthAdjust="spacingAndGlyphs">40</text>
<circle cx="-27.6" cy="72.8" r="1.3" fill="none" stroke="#262626" stroke-width="0.8"/>
<text class="ax" x="-19.8" y="86.1" textLength="10.2" lengthAdjust="spacingAndGlyphs">N</text>
<text class="ax" x="-32.2" y="69.5" text-anchor="end" textLength="17.6" lengthAdjust="spacingAndGlyphs">42</text>
<circle cx="-27.6" cy="56.2" r="1.3" fill="none" stroke="#262626" stroke-width="0.8"/>
<text class="ax" x="-19.8" y="69.5" textLength="10.2" lengthAdjust="spacingAndGlyphs">N</text>
<text class="ax" x="-32.2" y="52.4" text-anchor="end" textLength="17.6" lengthAdjust="spacingAndGlyphs">44</text>
<circle cx="-27.6" cy="39.1" r="1.3" fill="none" stroke="#262626" stroke-width="0.8"/>
<text class="ax" x="-19.8" y="52.4" textLength="10.2" lengthAdjust="spacingAndGlyphs">N</text>
<text class="ax" x="-32.2" y="34.7" text-anchor="end" textLength="17.6" lengthAdjust="spacingAndGlyphs">46</text>
<circle cx="-27.6" cy="21.4" r="1.3" fill="none" stroke="#262626" stroke-width="0.8"/>
<text class="ax" x="-19.8" y="34.7" textLength="10.2" lengthAdjust="spacingAndGlyphs">N</text>
<text class="ax" x="-32.2" y="16.3" text-anchor="end" textLength="17.6" lengthAdjust="spacingAndGlyphs">48</text>
<circle cx="-27.6" cy="3.0" r="1.3" fill="none" stroke="#262626" stroke-width="0.8"/>
<text class="ax" x="-19.8" y="16.3" textLength="10.2" lengthAdjust="spacingAndGlyphs">N</text>
<text class="ax" x="44.4" y="-19.6" text-anchor="end" textLength="25.8" lengthAdjust="spacingAndGlyphs">100</text>
<circle cx="49.3" cy="-32" r="1.4" fill="none" stroke="#262626" stroke-width="0.8"/>
<text class="ax" x="56.7" y="-19.6" textLength="13.6" lengthAdjust="spacingAndGlyphs">W</text>
<text class="ax" x="107.5" y="-19.6" text-anchor="end" textLength="17.2" lengthAdjust="spacingAndGlyphs">90</text>
<circle cx="112.4" cy="-32" r="1.4" fill="none" stroke="#262626" stroke-width="0.8"/>
<text class="ax" x="119.8" y="-19.6" textLength="13.6" lengthAdjust="spacingAndGlyphs">W</text>
<text class="ax" x="170.5" y="-19.6" text-anchor="end" textLength="17.2" lengthAdjust="spacingAndGlyphs">80</text>
<circle cx="175.4" cy="-32" r="1.4" fill="none" stroke="#262626" stroke-width="0.8"/>
<text class="ax" x="182.8" y="-19.6" textLength="13.6" lengthAdjust="spacingAndGlyphs">W</text>
<text class="ax" x="233.5" y="-19.6" text-anchor="end" textLength="17.2" lengthAdjust="spacingAndGlyphs">70</text>
<circle cx="238.4" cy="-32" r="1.4" fill="none" stroke="#262626" stroke-width="0.8"/>
<text class="ax" x="245.8" y="-19.6" textLength="13.6" lengthAdjust="spacingAndGlyphs">W</text>
<text class="st" x="-55.0" y="244.5" textLength="334.4" lengthAdjust="spacingAndGlyphs">SAT 150 hPa RH (Percent)</text>
</g>
<rect x="441.8" y="95.7" width="22.5" height="214.5" fill="url(#jet)" stroke="#1a1a1a" stroke-width="1.1"/>
<path d="M464.3 202.9h-3" stroke="#262626" stroke-width="1"/>
<text class="cb" x="475.2" y="102.7" textLength="40.8" lengthAdjust="spacingAndGlyphs">100</text>
<text class="cb" x="474.4" y="210.4" textLength="26.4" lengthAdjust="spacingAndGlyphs">50</text>
<text class="cb" x="474.1" y="318.2" textLength="13.4" lengthAdjust="spacingAndGlyphs">0</text>
<g transform="translate(616.70 96.45) scale(1.0000 1.0000)">
<rect x="0" y="0" width="234.1" height="213.1" fill="none" stroke="#262626" stroke-width="1.2"/>
<g clip-path="url(#swath)"><g filter="url(#bl)"><rect x="-10" y="-10" width="9" height="9" fill="#000094"/><rect x="-2" y="-10" width="9" height="9" fill="#000094"/><rect x="6" y="-10" width="9" height="9" fill="#0000bd"/><rect x="14" y="-10" width="9" height="9" fill="#0000bd"/><rect x="22" y="-10" width="9" height="9" fill="#0000bd"/><rect x="30" y="-10" width="9" height="9" fill="#0000bd"/><rect x="38" y="-10" width="9" height="9" fill="#0000bd"/><rect x="46" y="-10" width="9" height="9" fill="#0000bd"/><rect x="54" y="-10" width="9" height="9" fill="#0000bd"/><rect x="62" y="-10" width="9" height="9" fill="#0000bd"/><rect x="70" y="-10" width="9" height="9" fill="#0000bd"/><rect x="78" y="-10" width="9" height="9" fill="#0000bd"/><rect x="86" y="-10" width="9" height="9" fill="#0000bd"/><rect x="-10" y="-2" width="9" height="9" fill="#000094"/><rect x="-2" y="-2" width="9" height="9" fill="#000094"/><rect x="6" y="-2" width="9" height="9" fill="#0000bd"/><rect x="14" y="-2" width="9" height="9" fill="#0000bd"/><rect x="22" y="-2" width="9" height="9" fill="#0000bd"/><rect x="30" y="-2" width="9" height="9" fill="#0000bd"/><rect x="38" y="-2" width="9" height="9" fill="#0000bd"/><rect x="46" y="-2" width="9" height="9" fill="#0000bd"/><rect x="54" y="-2" width="9" height="9" fill="#0000bd"/><rect x="62" y="-2" width="9" height="9" fill="#0000bd"/><rect x="70" y="-2" width="9" height="9" fill="#0000bd"/><rect x="78" y="-2" width="9" height="9" fill="#0000bd"/><rect x="86" y="-2" width="9" height="9" fill="#0000bd"/><rect x="-10" y="6" width="9" height="9" fill="#000094"/><rect x="-2" y="6" width="9" height="9" fill="#000094"/><rect x="6" y="6" width="9" height="9" fill="#0000bd"/><rect x="14" y="6" width="9" height="9" fill="#0000bd"/><rect x="22" y="6" width="9" height="9" fill="#0000bd"/><rect x="30" y="6" width="9" height="9" fill="#0000bd"/><rect x="38" y="6" width="9" height="9" fill="#0000bd"/><rect x="46" y="6" width="9" height="9" fill="#0000bd"/><rect x="54" y="6" width="9" height="9" fill="#0000bd"/><rect x="62" y="6" width="9" height="9" fill="#0000bd"/><rect x="70" y="6" width="9" height="9" fill="#0000bd"/><rect x="78" y="6" width="9" height="9" fill="#0000bd"/><rect x="86" y="6" width="9" height="9" fill="#0000bd"/><rect x="-10" y="14" width="9" height="9" fill="#000094"/><rect x="-2" y="14" width="9" height="9" fill="#000094"/><rect x="6" y="14" width="9" height="9" fill="#0000bd"/><rect x="14" y="14" width="9" height="9" fill="#0000bd"/><rect x="22" y="14" width="9" height="9" fill="#0000bd"/><rect x="30" y="14" width="9" height="9" fill="#0000bd"/><rect x="38" y="14" width="9" height="9" fill="#0000bd"/><rect x="46" y="14" width="9" height="9" fill="#0000bd"/><rect x="54" y="14" width="9" height="9" fill="#0000bd"/><rect x="62" y="14" width="9" height="9" fill="#0000bd"/><rect x="70" y="14" width="9" height="9" fill="#0000bd"/><rect x="78" y="14" width="9" height="9" fill="#0000bd"/><rect x="86" y="14" width="9" height="9" fill="#0000bd"/><rect x="-10" y="22" width="9" height="9" fill="#000094"/><rect x="-2" y="22" width="9" height="9" fill="#000094"/><rect x="6" y="22" width="9" height="9" fill="#0000bd"/><rect x="14" y="22" width="9" height="9" fill="#0000bd"/><rect x="22" y="22" width="9" height="9" fill="#0000bd"/><rect x="30" y="22" width="9" height="9" fill="#0000bd"/><rect x="38" y="22" width="9" height="9" fill="#0000bd"/><rect x="46" y="22" width="9" height="9" fill="#0000bd"/><rect x="54" y="22" width="9" height="9" fill="#0000bd"/><rect x="62" y="22" width="9" height="9" fill="#0000bd"/><rect x="70" y="22" width="9" height="9" fill="#0000bd"/><rect x="78" y="22" width="9" height="9" fill="#0000bd"/><rect x="86" y="22" width="9" height="9" fill="#0000bd"/><rect x="-10" y="30" width="9" height="9" fill="#000094"/><rect x="-2" y="30" width="9" height="9" fill="#000094"/><rect x="6" y="30" width="9" height="9" fill="#0000bd"/><rect x="14" y="30" width="9" height="9" fill="#0000bd"/><rect x="22" y="30" width="9" height="9" fill="#0000bd"/><rect x="30" y="30" width="9" height="9" fill="#0000bd"/><rect x="38" y="30" width="9" height="9" fill="#0000bd"/><rect x="46" y="30" width="9" height="9" fill="#0000bd"/><rect x="54" y="30" width="9" height="9" fill="#0000bd"/><rect x="62" y="30" width="9" height="9" fill="#0000bd"/><rect x="70" y="30" width="9" height="9" fill="#0000bd"/><rect x="78" y="30" width="9" height="9" fill="#0000bd"/><rect x="86" y="30" width="9" height="9" fill="#0000bd"/><rect x="-10" y="38" width="9" height="9" fill="#000094"/><rect x="-2" y="38" width="9" height="9" fill="#000094"/><rect x="6" y="38" width="9" height="9" fill="#0000bd"/><rect x="14" y="38" width="9" height="9" fill="#0000bd"/><rect x="22" y="38" width="9" height="9" fill="#0000bd"/><rect x="30" y="38" width="9" height="9" fill="#0000bd"/><rect x="38" y="38" width="9" height="9" fill="#0000bd"/><rect x="46" y="38" width="9" height="9" fill="#0000bd"/><rect x="54" y="38" width="9" height="9" fill="#0000bd"/><rect x="62" y="38" width="9" height="9" fill="#0000bd"/><rect x="70" y="38" width="9" height="9" fill="#0000bd"/><rect x="78" y="38" width="9" height="9" fill="#0000bd"/><rect x="86" y="38" width="9" height="9" fill="#0000bd"/><rect x="-10" y="46" width="9" height="9" fill="#000094"/><rect x="-2" y="46" width="9" height="9" fill="#000094"/><rect x="6" y="46" width="9" height="9" fill="#0000bd"/><rect x="14" y="46" width="9" height="9" fill="#0000bd"/><rect x="22" y="46" width="9" height="9" fill="#0000bd"/><rect x="30" y="46" width="9" height="9" fill="#0000bd"/><rect x="38" y="46" width="9" height="9" fill="#0000bd"/><rect x="46" y="46" width="9" height="9" fill="#0000bd"/><rect x="54" y="46" width="9" height="9" fill="#0000bd"/><rect x="62" y="46" width="9" height="9" fill="#0000bd"/><rect x="70" y="46" width="9" height="9" fill="#0000bd"/><rect x="78" y="46" width="9" height="9" fill="#0000bd"/><rect x="86" y="46" width="9" height="9" fill="#0000bd"/><rect x="-10" y="54" width="9" height="9" fill="#000094"/><rect x="-2" y="54" width="9" height="9" fill="#000094"/><rect x="6" y="54" width="9" height="9" fill="#0000bd"/><rect x="14" y="54" width="9" height="9" fill="#0000bd"/><rect x="22" y="54" width="9" height="9" fill="#0000bd"/><rect x="30" y="54" width="9" height="9" fill="#0000bd"/><rect x="38" y="54" width="9" height="9" fill="#0000bd"/><rect x="46" y="54" width="9" height="9" fill="#0000bd"/><rect x="54" y="54" width="9" height="9" fill="#0000bd"/><rect x="62" y="54" width="9" height="9" fill="#0000bd"/><rect x="70" y="54" width="9" height="9" fill="#0000bd"/><rect x="78" y="54" width="9" height="9" fill="#0000bd"/><rect x="86" y="54" width="9" height="9" fill="#0000bd"/><rect x="-10" y="62" width="9" height="9" fill="#000094"/><rect x="-2" y="62" width="9" height="9" fill="#000094"/><rect x="6" y="62" width="9" height="9" fill="#0000bd"/><rect x="14" y="62" width="9" height="9" fill="#0000bd"/><rect x="22" y="62" width="9" height="9" fill="#0000bd"/><rect x="30" y="62" width="9" height="9" fill="#0000bd"/><rect x="38" y="62" width="9" height="9" fill="#0000bd"/><rect x="46" y="62" width="9" height="9" fill="#0000bd"/><rect x="54" y="62" width="9" height="9" fill="#0000bd"/><rect x="62" y="62" width="9" height="9" fill="#0000bd"/><rect x="70" y="62" width="9" height="9" fill="#0000bd"/><rect x="78" y="62" width="9" height="9" fill="#0000bd"/><rect x="86" y="62" width="9" height="9" fill="#0000bd"/><rect x="-10" y="70" width="9" height="9" fill="#000094"/><rect x="-2" y="70" width="9" height="9" fill="#000094"/><rect x="6" y="70" width="9" height="9" fill="#0000bd"/><rect x="14" y="70" width="9" height="9" fill="#0000bd"/><rect x="22" y="70" width="9" height="9" fill="#0000bd"/><rect x="30" y="70" width="9" height="9" fill="#000fff"/><rect x="38" y="70" width="9" height="9" fill="#000fff"/><rect x="46" y="70" width="9" height="9" fill="#000fff"/><rect x="54" y="70" width="9" height="9" fill="#000fff"/><rect x="62" y="70" width="9" height="9" fill="#000fff"/><rect x="70" y="70" width="9" height="9" fill="#000fff"/><rect x="78" y="70" width="9" height="9" fill="#000fff"/><rect x="86" y="70" width="9" height="9" fill="#000fff"/><rect x="-10" y="78" width="9" height="9" fill="#0000bd"/><rect x="-2" y="78" width="9" height="9" fill="#0000bd"/><rect x="6" y="78" width="9" height="9" fill="#0000bd"/><rect x="14" y="78" width="9" height="9" fill="#0000bd"/><rect x="22" y="78" width="9" height="9" fill="#0000bd"/><rect x="30" y="78" width="9" height="9" fill="#000fff"/><rect x="38" y="78" width="9" height="9" fill="#0038ff"/><rect x="46" y="78" width="9" height="9" fill="#000fff"/><rect x="54" y="78" width="9" height="9" fill="#000fff"/><rect x="62" y="78" width="9" height="9" fill="#000fff"/><rect x="70" y="78" width="9" height="9" fill="#000fff"/><rect x="78" y="78" width="9" height="9" fill="#000fff"/><rect x="86" y="78" width="9" height="9" fill="#000fff"/><rect x="-10" y="86" width="9" height="9" fill="#0000bd"/><rect x="-2" y="86" width="9" height="9" fill="#0000bd"/><rect x="6" y="86" width="9" height="9" fill="#0000bd"/><rect x="14" y="86" width="9" height="9" fill="#0000bd"/><rect x="22" y="86" width="9" height="9" fill="#0000bd"/><rect x="30" y="86" width="9" height="9" fill="#0038ff"/><rect x="38" y="86" width="9" height="9" fill="#0038ff"/><rect x="46" y="86" width="9" height="9" fill="#00b3ff"/><rect x="54" y="86" width="9" height="9" fill="#00b3ff"/><rect x="62" y="86" width="9" height="9" fill="#00b3ff"/><rect x="70" y="86" width="9" height="9" fill="#00b3ff"/><rect x="78" y="86" width="9" height="9" fill="#00b3ff"/><rect x="86" y="86" width="9" height="9" fill="#00b3ff"/><rect x="-10" y="94" width="9" height="9" fill="#000094"/><rect x="-2" y="94" width="9" height="9" fill="#000094"/><rect x="6" y="94" width="9" height="9" fill="#0000e6"/><rect x="14" y="94" width="9" height="9" fill="#0000e6"/><rect x="22" y="94" width="9" height="9" fill="#000094"/><rect x="30" y="94" width="9" height="9" fill="#000fff"/><rect x="38" y="94" width="9" height="9" fill="#0038ff"/><rect x="46" y="94" width="9" height="9" fill="#57ffa8"/><rect x="54" y="94" width="9" height="9" fill="#0038ff"/><rect x="62" y="94" width="9" height="9" fill="#0038ff"/><rect x="70" y="94" width="9" height="9" fill="#0038ff"/><rect x="78" y="94" width="9" height="9" fill="#0038ff"/><rect x="86" y="94" width="9" height="9" fill="#0038ff"/><rect x="-10" y="102" width="9" height="9" fill="#000094"/><rect x="-2" y="102" width="9" height="9" fill="#000094"/><rect x="6" y="102" width="9" height="9" fill="#0000e6"/><rect x="14" y="102" width="9" height="9" fill="#0038ff"/><rect x="22" y="102" width="9" height="9" fill="#000fff"/><rect x="30" y="102" width="9" height="9" fill="#00dbff"/><rect x="38" y="102" width="9" height="9" fill="#57ffa8"/><rect x="46" y="102" width="9" height="9" fill="#0038ff"/><rect x="54" y="102" width="9" height="9" fill="#0038ff"/><rect x="62" y="102" width="9" height="9" fill="#0038ff"/><rect x="70" y="102" width="9" height="9" fill="#0038ff"/><rect x="78" y="102" width="9" height="9" fill="#0038ff"/><rect x="86" y="102" width="9" height="9" fill="#0038ff"/><rect x="-10" y="110" width="9" height="9" fill="#000fff"/><rect x="-2" y="110" width="9" height="9" fill="#000fff"/><rect x="6" y="110" width="9" height="9" fill="#008aff"/><rect x="14" y="110" width="9" height="9" fill="#000fff"/><rect x="22" y="110" width="9" height="9" fill="#000fff"/><rect x="30" y="110" width="9" height="9" fill="#0061ff"/><rect x="38" y="110" width="9" height="9" fill="#0038ff"/><rect x="46" y="110" width="9" height="9" fill="#0061ff"/><rect x="54" y="110" width="9" height="9" fill="#000fff"/><rect x="62" y="110" width="9" height="9" fill="#000fff"/><rect x="70" y="110" width="9" height="9" fill="#000fff"/><rect x="78" y="110" width="9" height="9" fill="#000fff"/><rect x="86" y="110" width="9" height="9" fill="#000fff"/><rect x="-10" y="118" width="9" height="9" fill="#000fff"/><rect x="-2" y="118" width="9" height="9" fill="#000fff"/><rect x="6" y="118" width="9" height="9" fill="#0038ff"/><rect x="14" y="118" width="9" height="9" fill="#000fff"/><rect x="22" y="118" width="9" height="9" fill="#0000e6"/><rect x="30" y="118" width="9" height="9" fill="#000fff"/><rect x="38" y="118" width="9" height="9" fill="#000fff"/><rect x="46" y="118" width="9" height="9" fill="#0038ff"/><rect x="54" y="118" width="9" height="9" fill="#000fff"/><rect x="62" y="118" width="9" height="9" fill="#000fff"/><rect x="70" y="118" width="9" height="9" fill="#000fff"/><rect x="78" y="118" width="9" height="9" fill="#000fff"/><rect x="86" y="118" width="9" height="9" fill="#000fff"/><rect x="-10" y="126" width="9" height="9" fill="#0000e6"/><rect x="-2" y="126" width="9" height="9" fill="#0000e6"/><rect x="6" y="126" width="9" height="9" fill="#000fff"/><rect x="14" y="126" width="9" height="9" fill="#0000e6"/><rect x="22" y="126" width="9" height="9" fill="#0000e6"/><rect x="30" y="126" width="9" height="9" fill="#0038ff"/><rect x="38" y="126" width="9" height="9" fill="#0061ff"/><rect x="46" y="126" width="9" height="9" fill="#0038ff"/><rect x="54" y="126" width="9" height="9" fill="#0038ff"/><rect x="62" y="126" width="9" height="9" fill="#0038ff"/><rect x="70" y="126" width="9" height="9" fill="#0038ff"/><rect x="78" y="126" width="9" height="9" fill="#0038ff"/><rect x="86" y="126" width="9" height="9" fill="#0038ff"/><rect x="-10" y="134" width="9" height="9" fill="#0000bd"/><rect x="-2" y="134" width="9" height="9" fill="#0000bd"/><rect x="6" y="134" width="9" height="9" fill="#0000e6"/><rect x="14" y="134" width="9" height="9" fill="#0000e6"/><rect x="22" y="134" width="9" height="9" fill="#000fff"/><rect x="30" y="134" width="9" height="9" fill="#000fff"/><rect x="38" y="134" width="9" height="9" fill="#0038ff"/><rect x="46" y="134" width="9" height="9" fill="#0038ff"/><rect x="54" y="134" width="9" height="9" fill="#0061ff"/><rect x="62" y="134" width="9" height="9" fill="#0061ff"/><rect x="70" y="134" width="9" height="9" fill="#0061ff"/><rect x="78" y="134" width="9" height="9" fill="#0061ff"/><rect x="86" y="134" width="9" height="9" fill="#0061ff"/><rect x="-10" y="142" width="9" height="9" fill="#0000bd"/><rect x="-2" y="142" width="9" height="9" fill="#0000bd"/><rect x="6" y="142" width="9" height="9" fill="#0000e6"/><rect x="14" y="142" width="9" height="9" fill="#0000e6"/><rect x="22" y="142" width="9" height="9" fill="#0000e6"/><rect x="30" y="142" width="9" height="9" fill="#0000e6"/><rect x="38" y="142" width="9" height="9" fill="#000fff"/><rect x="46" y="142" width="9" height="9" fill="#000fff"/><rect x="54" y="142" width="9" height="9" fill="#008aff"/><rect x="62" y="142" width="9" height="9" fill="#008aff"/><rect x="70" y="142" width="9" height="9" fill="#008aff"/><rect x="78" y="142" width="9" height="9" fill="#008aff"/><rect x="86" y="142" width="9" height="9" fill="#008aff"/><rect x="-10" y="150" width="9" height="9" fill="#0000bd"/><rect x="-2" y="150" width="9" height="9" fill="#0000bd"/><rect x="6" y="150" width="9" height="9" fill="#0000bd"/><rect x="14" y="150" width="9" height="9" fill="#0000e6"/><rect x="22" y="150" width="9" height="9" fill="#000fff"/><rect x="30" y="150" width="9" height="9" fill="#0000e6"/><rect x="38" y="150" width="9" height="9" fill="#0000e6"/><rect x="46" y="150" width="9" height="9" fill="#0000e6"/><rect x="54" y="150" width="9" height="9" fill="#000fff"/><rect x="62" y="150" width="9" height="9" fill="#000fff"/><rect x="70" y="150" width="9" height="9" fill="#000fff"/><rect x="78" y="150" width="9" height="9" fill="#000fff"/><rect x="86" y="150" width="9" height="9" fill="#000fff"/><rect x="-10" y="158" width="9" height="9" fill="#0000bd"/><rect x="-2" y="158" width="9" height="9" fill="#0000bd"/><rect x="6" y="158" width="9" height="9" fill="#0000bd"/><rect x="14" y="158" width="9" height="9" fill="#0000e6"/><rect x="22" y="158" width="9" height="9" fill="#0000e6"/><rect x="30" y="158" width="9" height="9" fill="#0000e6"/><rect x="38" y="158" width="9" height="9" fill="#0000e6"/><rect x="46" y="158" width="9" height="9" fill="#0000e6"/><rect x="54" y="158" width="9" height="9" fill="#0000e6"/><rect x="62" y="158" width="9" height="9" fill="#0000e6"/><rect x="70" y="158" width="9" height="9" fill="#0000e6"/><rect x="78" y="158" width="9" height="9" fill="#0000e6"/><rect x="86" y="158" width="9" height="9" fill="#0000e6"/><rect x="-10" y="166" width="9" height="9" fill="#0000bd"/><rect x="-2" y="166" width="9" height="9" fill="#0000bd"/><rect x="6" y="166" width="9" height="9" fill="#0000bd"/><rect x="14" y="166" width="9" height="9" fill="#0000bd"/><rect x="22" y="166" width="9" height="9" fill="#0000bd"/><rect x="30" y="166" width="9" height="9" fill="#0000bd"/><rect x="38" y="166" width="9" height="9" fill="#0000e6"/><rect x="46" y="166" width="9" height="9" fill="#0000e6"/><rect x="54" y="166" width="9" height="9" fill="#0000e6"/><rect x="62" y="166" width="9" height="9" fill="#0000e6"/><rect x="70" y="166" width="9" height="9" fill="#0000e6"/><rect x="78" y="166" width="9" height="9" fill="#0000e6"/><rect x="86" y="166" width="9" height="9" fill="#0000e6"/><rect x="-10" y="174" width="9" height="9" fill="#0000bd"/><rect x="-2" y="174" width="9" height="9" fill="#0000bd"/><rect x="6" y="174" width="9" height="9" fill="#0000bd"/><rect x="14" y="174" width="9" height="9" fill="#0000bd"/><rect x="22" y="174" width="9" height="9" fill="#0000bd"/><rect x="30" y="174" width="9" height="9" fill="#0000bd"/><rect x="38" y="174" width="9" height="9" fill="#0000bd"/><rect x="46" y="174" width="9" height="9" fill="#0000bd"/><rect x="54" y="174" width="9" height="9" fill="#0000bd"/><rect x="62" y="174" width="9" height="9" fill="#0000bd"/><rect x="70" y="174" width="9" height="9" fill="#0000bd"/><rect x="78" y="174" width="9" height="9" fill="#0000bd"/><rect x="86" y="174" width="9" height="9" fill="#0000bd"/><rect x="-10" y="182" width="9" height="9" fill="#0000bd"/><rect x="-2" y="182" width="9" height="9" fill="#0000bd"/><rect x="6" y="182" width="9" height="9" fill="#0000bd"/><rect x="14" y="182" width="9" height="9" fill="#0000bd"/><rect x="22" y="182" width="9" height="9" fill="#0000bd"/><rect x="30" y="182" width="9" height="9" fill="#0000bd"/><rect x="38" y="182" width="9" height="9" fill="#0000bd"/><rect x="46" y="182" width="9" height="9" fill="#0000bd"/><rect x="54" y="182" width="9" height="9" fill="#0000bd"/><rect x="62" y="182" width="9" height="9" fill="#0000bd"/><rect x="70" y="182" width="9" height="9" fill="#0000bd"/><rect x="78" y="182" width="9" height="9" fill="#0000bd"/><rect x="86" y="182" width="9" height="9" fill="#0000bd"/><rect x="-10" y="190" width="9" height="9" fill="#0000bd"/><rect x="-2" y="190" width="9" height="9" fill="#0000bd"/><rect x="6" y="190" width="9" height="9" fill="#0000bd"/><rect x="14" y="190" width="9" height="9" fill="#0000bd"/><rect x="22" y="190" width="9" height="9" fill="#0000bd"/><rect x="30" y="190" width="9" height="9" fill="#0000bd"/><rect x="38" y="190" width="9" height="9" fill="#0000bd"/><rect x="46" y="190" width="9" height="9" fill="#0000bd"/><rect x="54" y="190" width="9" height="9" fill="#0000bd"/><rect x="62" y="190" width="9" height="9" fill="#0000bd"/><rect x="70" y="190" width="9" height="9" fill="#0000bd"/><rect x="78" y="190" width="9" height="9" fill="#0000bd"/><rect x="86" y="190" width="9" height="9" fill="#0000bd"/></g><g filter="url(#bl2)"></g></g>
<g transform="translate(0.6 0.6)"><use href="#map" clip-path="url(#clip)"/></g>
<text class="ax" x="-32.2" y="218.4" text-anchor="end" textLength="17.6" lengthAdjust="spacingAndGlyphs">22</text>
<circle cx="-27.6" cy="205.1" r="1.3" fill="none" stroke="#262626" stroke-width="0.8"/>
<text class="ax" x="-19.8" y="218.4" textLength="10.2" lengthAdjust="spacingAndGlyphs">N</text>
<text class="ax" x="-32.2" y="204.8" text-anchor="end" textLength="17.6" lengthAdjust="spacingAndGlyphs">24</text>
<circle cx="-27.6" cy="191.5" r="1.3" fill="none" stroke="#262626" stroke-width="0.8"/>
<text class="ax" x="-19.8" y="204.8" textLength="10.2" lengthAdjust="spacingAndGlyphs">N</text>
<text class="ax" x="-32.2" y="191.0" text-anchor="end" textLength="17.6" lengthAdjust="spacingAndGlyphs">26</text>
<circle cx="-27.6" cy="177.7" r="1.3" fill="none" stroke="#262626" stroke-width="0.8"/>
<text class="ax" x="-19.8" y="191.0" textLength="10.2" lengthAdjust="spacingAndGlyphs">N</text>
<text class="ax" x="-32.2" y="177.0" text-anchor="end" textLength="17.6" lengthAdjust="spacingAndGlyphs">28</text>
<circle cx="-27.6" cy="163.7" r="1.3" fill="none" stroke="#262626" stroke-width="0.8"/>
<text class="ax" x="-19.8" y="177.0" textLength="10.2" lengthAdjust="spacingAndGlyphs">N</text>
<text class="ax" x="-32.2" y="162.7" text-anchor="end" textLength="17.6" lengthAdjust="spacingAndGlyphs">30</text>
<circle cx="-27.6" cy="149.4" r="1.3" fill="none" stroke="#262626" stroke-width="0.8"/>
<text class="ax" x="-19.8" y="162.7" textLength="10.2" lengthAdjust="spacingAndGlyphs">N</text>
<text class="ax" x="-32.2" y="148.1" text-anchor="end" textLength="17.6" lengthAdjust="spacingAndGlyphs">32</text>
<circle cx="-27.6" cy="134.8" r="1.3" fill="none" stroke="#262626" stroke-width="0.8"/>
<text class="ax" x="-19.8" y="148.1" textLength="10.2" lengthAdjust="spacingAndGlyphs">N</text>
<text class="ax" x="-32.2" y="133.2" text-anchor="end" textLength="17.6" lengthAdjust="spacingAndGlyphs">34</text>
<circle cx="-27.6" cy="119.9" r="1.3" fill="none" stroke="#262626" stroke-width="0.8"/>
<text class="ax" x="-19.8" y="133.2" textLength="10.2" lengthAdjust="spacingAndGlyphs">N</text>
<text class="ax" x="-32.2" y="117.9" text-anchor="end" textLength="17.6" lengthAdjust="spacingAndGlyphs">36</text>
<circle cx="-27.6" cy="104.6" r="1.3" fill="none" stroke="#262626" stroke-width="0.8"/>
<text class="ax" x="-19.8" y="117.9" textLength="10.2" lengthAdjust="spacingAndGlyphs">N</text>
<text class="ax" x="-32.2" y="102.2" text-anchor="end" textLength="17.6" lengthAdjust="spacingAndGlyphs">38</text>
<circle cx="-27.6" cy="88.9" r="1.3" fill="none" stroke="#262626" stroke-width="0.8"/>
<text class="ax" x="-19.8" y="102.2" textLength="10.2" lengthAdjust="spacingAndGlyphs">N</text>
<text class="ax" x="-32.2" y="86.1" text-anchor="end" textLength="17.6" lengthAdjust="spacingAndGlyphs">40</text>
<circle cx="-27.6" cy="72.8" r="1.3" fill="none" stroke="#262626" stroke-width="0.8"/>
<text class="ax" x="-19.8" y="86.1" textLength="10.2" lengthAdjust="spacingAndGlyphs">N</text>
<text class="ax" x="-32.2" y="69.5" text-anchor="end" textLength="17.6" lengthAdjust="spacingAndGlyphs">42</text>
<circle cx="-27.6" cy="56.2" r="1.3" fill="none" stroke="#262626" stroke-width="0.8"/>
<text class="ax" x="-19.8" y="69.5" textLength="10.2" lengthAdjust="spacingAndGlyphs">N</text>
<text class="ax" x="-32.2" y="52.4" text-anchor="end" textLength="17.6" lengthAdjust="spacingAndGlyphs">44</text>
<circle cx="-27.6" cy="39.1" r="1.3" fill="none" stroke="#262626" stroke-width="0.8"/>
<text class="ax" x="-19.8" y="52.4" textLength="10.2" lengthAdjust="spacingAndGlyphs">N</text>
<text class="ax" x="-32.2" y="34.7" text-anchor="end" textLength="17.6" lengthAdjust="spacingAndGlyphs">46</text>
<circle cx="-27.6" cy="21.4" r="1.3" fill="none" stroke="#262626" stroke-width="0.8"/>
<text class="ax" x="-19.8" y="34.7" textLength="10.2" lengthAdjust="spacingAndGlyphs">N</text>
<text class="ax" x="-32.2" y="16.3" text-anchor="end" textLength="17.6" lengthAdjust="spacingAndGlyphs">48</text>
<circle cx="-27.6" cy="3.0" r="1.3" fill="none" stroke="#262626" stroke-width="0.8"/>
<text class="ax" x="-19.8" y="16.3" textLength="10.2" lengthAdjust="spacingAndGlyphs">N</text>
<text class="ax" x="44.4" y="-19.6" text-anchor="end" textLength="25.8" lengthAdjust="spacingAndGlyphs">100</text>
<circle cx="49.3" cy="-32" r="1.4" fill="none" stroke="#262626" stroke-width="0.8"/>
<text class="ax" x="56.7" y="-19.6" textLength="13.6" lengthAdjust="spacingAndGlyphs">W</text>
<text class="ax" x="107.5" y="-19.6" text-anchor="end" textLength="17.2" lengthAdjust="spacingAndGlyphs">90</text>
<circle cx="112.4" cy="-32" r="1.4" fill="none" stroke="#262626" stroke-width="0.8"/>
<text class="ax" x="119.8" y="-19.6" textLength="13.6" lengthAdjust="spacingAndGlyphs">W</text>
<text class="ax" x="170.5" y="-19.6" text-anchor="end" textLength="17.2" lengthAdjust="spacingAndGlyphs">80</text>
<circle cx="175.4" cy="-32" r="1.4" fill="none" stroke="#262626" stroke-width="0.8"/>
<text class="ax" x="182.8" y="-19.6" textLength="13.6" lengthAdjust="spacingAndGlyphs">W</text>
<text class="ax" x="233.5" y="-19.6" text-anchor="end" textLength="17.2" lengthAdjust="spacingAndGlyphs">70</text>
<circle cx="238.4" cy="-32" r="1.4" fill="none" stroke="#262626" stroke-width="0.8"/>
<text class="ax" x="245.8" y="-19.6" textLength="13.6" lengthAdjust="spacingAndGlyphs">W</text>
<text class="st" x="-55.0" y="244.5" textLength="334.4" lengthAdjust="spacingAndGlyphs">SAT 200 hPa RH (Percent)</text>
</g>
<rect x="862.8" y="93.7" width="22.5" height="218.3" fill="url(#jet)" stroke="#1a1a1a" stroke-width="1.1"/>
<path d="M885.3 202.8h-3" stroke="#262626" stroke-width="1"/>
<text class="cb" x="896.2" y="100.7" textLength="40.8" lengthAdjust="spacingAndGlyphs">100</text>
<text class="cb" x="895.4" y="210.3" textLength="26.4" lengthAdjust="spacingAndGlyphs">50</text>
<text class="cb" x="895.1" y="320.0" textLength="13.4" lengthAdjust="spacingAndGlyphs">0</text>
<g transform="translate(1037.70 95.40) scale(1.0038 1.0099)">
<rect x="0" y="0" width="234.1" height="213.1" fill="none" stroke="#262626" stroke-width="1.2"/>
<g clip-path="url(#swath)"><g filter="url(#bl)"><rect x="-10" y="-10" width="9" height="9" fill="#0000bd"/><rect x="-2" y="-10" width="9" height="9" fill="#0000bd"/><rect x="6" y="-10" width="9" height="9" fill="#0000e6"/><rect x="14" y="-10" width="9" height="9" fill="#0000e6"/><rect x="22" y="-10" width="9" height="9" fill="#0000e6"/><rect x="30" y="-10" width="9" height="9" fill="#0000e6"/><rect x="38" y="-10" width="9" height="9" fill="#0000e6"/><rect x="46" y="-10" width="9" height="9" fill="#0000e6"/><rect x="54" y="-10" width="9" height="9" fill="#0000e6"/><rect x="62" y="-10" width="9" height="9" fill="#0000e6"/><rect x="70" y="-10" width="9" height="9" fill="#0000e6"/><rect x="78" y="-10" width="9" height="9" fill="#0000e6"/><rect x="86" y="-10" width="9" height="9" fill="#0000e6"/><rect x="-10" y="-2" width="9" height="9" fill="#0000bd"/><rect x="-2" y="-2" width="9" height="9" fill="#0000bd"/><rect x="6" y="-2" width="9" height="9" fill="#0000e6"/><rect x="14" y="-2" width="9" height="9" fill="#0000e6"/><rect x="22" y="-2" width="9" height="9" fill="#0000e6"/><rect x="30" y="-2" width="9" height="9" fill="#0000e6"/><rect x="38" y="-2" width="9" height="9" fill="#0000e6"/><rect x="46" y="-2" width="9" height="9" fill="#0000e6"/><rect x="54" y="-2" width="9" height="9" fill="#0000e6"/><rect x="62" y="-2" width="9" height="9" fill="#0000e6"/><rect x="70" y="-2" width="9" height="9" fill="#0000e6"/><rect x="78" y="-2" width="9" height="9" fill="#0000e6"/><rect x="86" y="-2" width="9" height="9" fill="#0000e6"/><rect x="-10" y="6" width="9" height="9" fill="#0000e6"/><rect x="-2" y="6" width="9" height="9" fill="#0000e6"/><rect x="6" y="6" width="9" height="9" fill="#0000e6"/><rect x="14" y="6" width="9" height="9" fill="#0000e6"/><rect x="22" y="6" width="9" height="9" fill="#0000e6"/><rect x="30" y="6" width="9" height="9" fill="#0000e6"/><rect x="38" y="6" width="9" height="9" fill="#0000e6"/><rect x="46" y="6" width="9" height="9" fill="#0000e6"/><rect x="54" y="6" width="9" height="9" fill="#0000e6"/><rect x="62" y="6" width="9" height="9" fill="#0000e6"/><rect x="70" y="6" width="9" height="9" fill="#0000e6"/><rect x="78" y="6" width="9" height="9" fill="#0000e6"/><rect x="86" y="6" width="9" height="9" fill="#0000e6"/><rect x="-10" y="14" width="9" height="9" fill="#0000e6"/><rect x="-2" y="14" width="9" height="9" fill="#0000e6"/><rect x="6" y="14" width="9" height="9" fill="#0000e6"/><rect x="14" y="14" width="9" height="9" fill="#0000e6"/><rect x="22" y="14" width="9" height="9" fill="#0000e6"/><rect x="30" y="14" width="9" height="9" fill="#000fff"/><rect x="38" y="14" width="9" height="9" fill="#0038ff"/><rect x="46" y="14" width="9" height="9" fill="#008aff"/><rect x="54" y="14" width="9" height="9" fill="#008aff"/><rect x="62" y="14" width="9" height="9" fill="#008aff"/><rect x="70" y="14" width="9" height="9" fill="#008aff"/><rect x="78" y="14" width="9" height="9" fill="#008aff"/><rect x="86" y="14" width="9" height="9" fill="#008aff"/><rect x="-10" y="22" width="9" height="9" fill="#0000bd"/><rect x="-2" y="22" width="9" height="9" fill="#0000bd"/><rect x="6" y="22" width="9" height="9" fill="#0000e6"/><rect x="14" y="22" width="9" height="9" fill="#0000e6"/><rect x="22" y="22" width="9" height="9" fill="#0000e6"/><rect x="30" y="22" width="9" height="9" fill="#000fff"/><rect x="38" y="22" width="9" height="9" fill="#008aff"/><rect x="46" y="22" width="9" height="9" fill="#0061ff"/><rect x="54" y="22" width="9" height="9" fill="#0061ff"/><rect x="62" y="22" width="9" height="9" fill="#0061ff"/><rect x="70" y="22" width="9" height="9" fill="#0061ff"/><rect x="78" y="22" width="9" height="9" fill="#0061ff"/><rect x="86" y="22" width="9" height="9" fill="#0061ff"/><rect x="-10" y="30" width="9" height="9" fill="#0000bd"/><rect x="-2" y="30" width="9" height="9" fill="#0000bd"/><rect x="6" y="30" width="9" height="9" fill="#0000e6"/><rect x="14" y="30" width="9" height="9" fill="#00dbff"/><rect x="22" y="30" width="9" height="9" fill="#2effd1"/><rect x="30" y="30" width="9" height="9" fill="#0061ff"/><rect x="38" y="30" width="9" height="9" fill="#000fff"/><rect x="46" y="30" width="9" height="9" fill="#000fff"/><rect x="54" y="30" width="9" height="9" fill="#000fff"/><rect x="62" y="30" width="9" height="9" fill="#000fff"/><rect x="70" y="30" width="9" height="9" fill="#000fff"/><rect x="78" y="30" width="9" height="9" fill="#000fff"/><rect x="86" y="30" width="9" height="9" fill="#000fff"/><rect x="-10" y="38" width="9" height="9" fill="#0000e6"/><rect x="-2" y="38" width="9" height="9" fill="#0000e6"/><rect x="6" y="38" width="9" height="9" fill="#008aff"/><rect x="14" y="38" width="9" height="9" fill="#05fffa"/><rect x="22" y="38" width="9" height="9" fill="#00b3ff"/><rect x="30" y="38" width="9" height="9" fill="#000fff"/><rect x="38" y="38" width="9" height="9" fill="#000fff"/><rect x="46" y="38" width="9" height="9" fill="#000fff"/><rect x="54" y="38" width="9" height="9" fill="#000fff"/><rect x="62" y="38" width="9" height="9" fill="#000fff"/><rect x="70" y="38" width="9" height="9" fill="#000fff"/><rect x="78" y="38" width="9" height="9" fill="#000fff"/><rect x="86" y="38" width="9" height="9" fill="#000fff"/><rect x="-10" y="46" width="9" height="9" fill="#0000bd"/><rect x="-2" y="46" width="9" height="9" fill="#0000bd"/><rect x="6" y="46" width="9" height="9" fill="#0000e6"/><rect x="14" y="46" width="9" height="9" fill="#00b3ff"/><rect x="22" y="46" width="9" height="9" fill="#2effd1"/><rect x="30" y="46" width="9" height="9" fill="#05fffa"/><rect x="38" y="46" width="9" height="9" fill="#0061ff"/><rect x="46" y="46" width="9" height="9" fill="#000fff"/><rect x="54" y="46" width="9" height="9" fill="#000fff"/><rect x="62" y="46" width="9" height="9" fill="#000fff"/><rect x="70" y="46" width="9" height="9" fill="#000fff"/><rect x="78" y="46" width="9" height="9" fill="#000fff"/><rect x="86" y="46" width="9" height="9" fill="#000fff"/><rect x="-10" y="54" width="9" height="9" fill="#0000bd"/><rect x="-2" y="54" width="9" height="9" fill="#0000bd"/><rect x="6" y="54" width="9" height="9" fill="#0000e6"/><rect x="14" y="54" width="9" height="9" fill="#ff8a00"/><rect x="22" y="54" width="9" height="9" fill="#a8ff57"/><rect x="30" y="54" width="9" height="9" fill="#d1ff2e"/><rect x="38" y="54" width="9" height="9" fill="#80ff80"/><rect x="46" y="54" width="9" height="9" fill="#05fffa"/><rect x="54" y="54" width="9" height="9" fill="#05fffa"/><rect x="62" y="54" width="9" height="9" fill="#05fffa"/><rect x="70" y="54" width="9" height="9" fill="#05fffa"/><rect x="78" y="54" width="9" height="9" fill="#05fffa"/><rect x="86" y="54" width="9" height="9" fill="#05fffa"/><rect x="-10" y="62" width="9" height="9" fill="#0000bd"/><rect x="-2" y="62" width="9" height="9" fill="#0000bd"/><rect x="6" y="62" width="9" height="9" fill="#008aff"/><rect x="14" y="62" width="9" height="9" fill="#05fffa"/><rect x="22" y="62" width="9" height="9" fill="#80ff80"/><rect x="30" y="62" width="9" height="9" fill="#faff05"/><rect x="38" y="62" width="9" height="9" fill="#faff05"/><rect x="46" y="62" width="9" height="9" fill="#00b3ff"/><rect x="54" y="62" width="9" height="9" fill="#00b3ff"/><rect x="62" y="62" width="9" height="9" fill="#00b3ff"/><rect x="70" y="62" width="9" height="9" fill="#00b3ff"/><rect x="78" y="62" width="9" height="9" fill="#00b3ff"/><rect x="86" y="62" width="9" height="9" fill="#00b3ff"/><rect x="-10" y="70" width="9" height="9" fill="#0000bd"/><rect x="-2" y="70" width="9" height="9" fill="#0000bd"/><rect x="6" y="70" width="9" height="9" fill="#0038ff"/><rect x="14" y="70" width="9" height="9" fill="#00dbff"/><rect x="22" y="70" width="9" height="9" fill="#57ffa8"/><rect x="30" y="70" width="9" height="9" fill="#c70000"/><rect x="38" y="70" width="9" height="9" fill="#a8ff57"/><rect x="46" y="70" width="9" height="9" fill="#57ffa8"/><rect x="54" y="70" width="9" height="9" fill="#57ffa8"/><rect x="62" y="70" width="9" height="9" fill="#57ffa8"/><rect x="70" y="70" width="9" height="9" fill="#57ffa8"/><rect x="78" y="70" width="9" height="9" fill="#57ffa8"/><rect x="86" y="70" width="9" height="9" fill="#57ffa8"/><rect x="-10" y="78" width="9" height="9" fill="#008aff"/><rect x="-2" y="78" width="9" height="9" fill="#008aff"/><rect x="6" y="78" width="9" height="9" fill="#0061ff"/><rect x="14" y="78" width="9" height="9" fill="#c70000"/><rect x="22" y="78" width="9" height="9" fill="#c70000"/><rect x="30" y="78" width="9" height="9" fill="#c70000"/><rect x="38" y="78" width="9" height="9" fill="#80ff80"/><rect x="46" y="78" width="9" height="9" fill="#d1ff2e"/><rect x="54" y="78" width="9" height="9" fill="#d1ff2e"/><rect x="62" y="78" width="9" height="9" fill="#d1ff2e"/><rect x="70" y="78" width="9" height="9" fill="#d1ff2e"/><rect x="78" y="78" width="9" height="9" fill="#d1ff2e"/><rect x="86" y="78" width="9" height="9" fill="#d1ff2e"/><rect x="-10" y="86" width="9" height="9" fill="#008aff"/><rect x="-2" y="86" width="9" height="9" fill="#008aff"/><rect x="6" y="86" width="9" height="9" fill="#0038ff"/><rect x="14" y="86" width="9" height="9" fill="#c70000"/><rect x="22" y="86" width="9" height="9" fill="#ffb200"/><rect x="30" y="86" width="9" height="9" fill="#c70000"/><rect x="38" y="86" width="9" height="9" fill="#00b3ff"/><rect x="46" y="86" width="9" height="9" fill="#c70000"/><rect x="54" y="86" width="9" height="9" fill="#c70000"/><rect x="62" y="86" width="9" height="9" fill="#c70000"/><rect x="70" y="86" width="9" height="9" fill="#c70000"/><rect x="78" y="86" width="9" height="9" fill="#c70000"/><rect x="86" y="86" width="9" height="9" fill="#c70000"/><rect x="-10" y="94" width="9" height="9" fill="#0061ff"/><rect x="-2" y="94" width="9" height="9" fill="#0061ff"/><rect x="6" y="94" width="9" height="9" fill="#00dbff"/><rect x="14" y="94" width="9" height="9" fill="#c70000"/><rect x="22" y="94" width="9" height="9" fill="#c70000"/><rect x="30" y="94" width="9" height="9" fill="#faff05"/><rect x="38" y="94" width="9" height="9" fill="#0038ff"/><rect x="46" y="94" width="9" height="9" fill="#c70000"/><rect x="54" y="94" width="9" height="9" fill="#c70000"/><rect x="62" y="94" width="9" height="9" fill="#c70000"/><rect x="70" y="94" width="9" height="9" fill="#c70000"/><rect x="78" y="94" width="9" height="9" fill="#c70000"/><rect x="86" y="94" width="9" height="9" fill="#c70000"/><rect x="-10" y="102" width="9" height="9" fill="#0038ff"/><rect x="-2" y="102" width="9" height="9" fill="#0038ff"/><rect x="6" y="102" width="9" height="9" fill="#00b3ff"/><rect x="14" y="102" width="9" height="9" fill="#c70000"/><rect x="22" y="102" width="9" height="9" fill="#c70000"/><rect x="30" y="102" width="9" height="9" fill="#c70000"/><rect x="38" y="102" width="9" height="9" fill="#c70000"/><rect x="46" y="102" width="9" height="9" fill="#008aff"/><rect x="54" y="102" width="9" height="9" fill="#0061ff"/><rect x="62" y="102" width="9" height="9" fill="#0061ff"/><rect x="70" y="102" width="9" height="9" fill="#0061ff"/><rect x="78" y="102" width="9" height="9" fill="#0061ff"/><rect x="86" y="102" width="9" height="9" fill="#0061ff"/><rect x="-10" y="110" width="9" height="9" fill="#2effd1"/><rect x="-2" y="110" width="9" height="9" fill="#2effd1"/><rect x="6" y="110" width="9" height="9" fill="#c70000"/><rect x="14" y="110" width="9" height="9" fill="#c70000"/><rect x="22" y="110" width="9" height="9" fill="#c70000"/><rect x="30" y="110" width="9" height="9" fill="#faff05"/><rect x="38" y="110" width="9" height="9" fill="#c70000"/><rect x="46" y="110" width="9" height="9" fill="#57ffa8"/><rect x="54" y="110" width="9" height="9" fill="#c70000"/><rect x="62" y="110" width="9" height="9" fill="#c70000"/><rect x="70" y="110" width="9" height="9" fill="#c70000"/><rect x="78" y="110" width="9" height="9" fill="#c70000"/><rect x="86" y="110" width="9" height="9" fill="#c70000"/><rect x="-10" y="118" width="9" height="9" fill="#c70000"/><rect x="-2" y="118" width="9" height="9" fill="#c70000"/><rect x="6" y="118" width="9" height="9" fill="#c70000"/><rect x="14" y="118" width="9" height="9" fill="#ffb200"/><rect x="22" y="118" width="9" height="9" fill="#c70000"/><rect x="30" y="118" width="9" height="9" fill="#c70000"/><rect x="38" y="118" width="9" height="9" fill="#57ffa8"/><rect x="46" y="118" width="9" height="9" fill="#00b3ff"/><rect x="54" y="118" width="9" height="9" fill="#57ffa8"/><rect x="62" y="118" width="9" height="9" fill="#57ffa8"/><rect x="70" y="118" width="9" height="9" fill="#57ffa8"/><rect x="78" y="118" width="9" height="9" fill="#57ffa8"/><rect x="86" y="118" width="9" height="9" fill="#57ffa8"/><rect x="-10" y="126" width="9" height="9" fill="#c70000"/><rect x="-2" y="126" width="9" height="9" fill="#c70000"/><rect x="6" y="126" width="9" height="9" fill="#ffb200"/><rect x="14" y="126" width="9" height="9" fill="#c70000"/><rect x="22" y="126" width="9" height="9" fill="#c70000"/><rect x="30" y="126" width="9" height="9" fill="#c70000"/><rect x="38" y="126" width="9" height="9" fill="#d1ff2e"/><rect x="46" y="126" width="9" height="9" fill="#80ff80"/><rect x="54" y="126" width="9" height="9" fill="#05fffa"/><rect x="62" y="126" width="9" height="9" fill="#05fffa"/><rect x="70" y="126" width="9" height="9" fill="#05fffa"/><rect x="78" y="126" width="9" height="9" fill="#05fffa"/><rect x="86" y="126" width="9" height="9" fill="#05fffa"/><rect x="-10" y="134" width="9" height="9" fill="#c70000"/><rect x="-2" y="134" width="9" height="9" fill="#c70000"/><rect x="6" y="134" width="9" height="9" fill="#ffb200"/><rect x="14" y="134" width="9" height="9" fill="#c70000"/><rect x="22" y="134" width="9" height="9" fill="#c70000"/><rect x="30" y="134" width="9" height="9" fill="#c70000"/><rect x="38" y="134" width="9" height="9" fill="#ffdb00"/><rect x="46" y="134" width="9" height="9" fill="#05fffa"/><rect x="54" y="134" width="9" height="9" fill="#00dbff"/><rect x="62" y="134" width="9" height="9" fill="#00dbff"/><rect x="70" y="134" width="9" height="9" fill="#00dbff"/><rect x="78" y="134" width="9" height="9" fill="#00dbff"/><rect x="86" y="134" width="9" height="9" fill="#00dbff"/><rect x="-10" y="142" width="9" height="9" fill="#c70000"/><rect x="-2" y="142" width="9" height="9" fill="#c70000"/><rect x="6" y="142" width="9" height="9" fill="#ffb200"/><rect x="14" y="142" width="9" height="9" fill="#c70000"/><rect x="22" y="142" width="9" height="9" fill="#c70000"/><rect x="30" y="142" width="9" height="9" fill="#d1ff2e"/><rect x="38" y="142" width="9" height="9" fill="#2effd1"/><rect x="46" y="142" width="9" height="9" fill="#05fffa"/><rect x="54" y="142" width="9" height="9" fill="#00b3ff"/><rect x="62" y="142" width="9" height="9" fill="#00b3ff"/><rect x="70" y="142" width="9" height="9" fill="#00b3ff"/><rect x="78" y="142" width="9" height="9" fill="#00b3ff"/><rect x="86" y="142" width="9" height="9" fill="#00b3ff"/><rect x="-10" y="150" width="9" height="9" fill="#a8ff57"/><rect x="-2" y="150" width="9" height="9" fill="#a8ff57"/><rect x="6" y="150" width="9" height="9" fill="#faff05"/><rect x="14" y="150" width="9" height="9" fill="#c70000"/><rect x="22" y="150" width="9" height="9" fill="#c70000"/><rect x="30" y="150" width="9" height="9" fill="#008aff"/><rect x="38" y="150" width="9" height="9" fill="#0038ff"/><rect x="46" y="150" width="9" height="9" fill="#0061ff"/><rect x="54" y="150" width="9" height="9" fill="#0061ff"/><rect x="62" y="150" width="9" height="9" fill="#0061ff"/><rect x="70" y="150" width="9" height="9" fill="#0061ff"/><rect x="78" y="150" width="9" height="9" fill="#0061ff"/><rect x="86" y="150" width="9" height="9" fill="#0061ff"/><rect x="-10" y="158" width="9" height="9" fill="#05fffa"/><rect x="-2" y="158" width="9" height="9" fill="#05fffa"/><rect x="6" y="158" width="9" height="9" fill="#00dbff"/><rect x="14" y="158" width="9" height="9" fill="#00dbff"/><rect x="22" y="158" width="9" height="9" fill="#0061ff"/><rect x="30" y="158" width="9" height="9" fill="#0038ff"/><rect x="38" y="158" width="9" height="9" fill="#0038ff"/><rect x="46" y="158" width="9" height="9" fill="#0061ff"/><rect x="54" y="158" width="9" height="9" fill="#0038ff"/><rect x="62" y="158" width="9" height="9" fill="#0038ff"/><rect x="70" y="158" width="9" height="9" fill="#0038ff"/><rect x="78" y="158" width="9" height="9" fill="#0038ff"/><rect x="86" y="158" width="9" height="9" fill="#0038ff"/><rect x="-10" y="166" width="9" height="9" fill="#00b3ff"/><rect x="-2" y="166" width="9" height="9" fill="#00b3ff"/><rect x="6" y="166" width="9" height="9" fill="#008aff"/><rect x="14" y="166" width="9" height="9" fill="#0038ff"/><rect x="22" y="166" width="9" height="9" fill="#000fff"/><rect x="30" y="166" width="9" height="9" fill="#000fff"/><rect x="38" y="166" width="9" height="9" fill="#000fff"/><rect x="46" y="166" width="9" height="9" fill="#000fff"/><rect x="54" y="166" width="9" height="9" fill="#000fff"/><rect x="62" y="166" width="9" height="9" fill="#000fff"/><rect x="70" y="166" width="9" height="9" fill="#000fff"/><rect x="78" y="166" width="9" height="9" fill="#000fff"/><rect x="86" y="166" width="9" height="9" fill="#000fff"/><rect x="-10" y="174" width="9" height="9" fill="#0038ff"/><rect x="-2" y="174" width="9" height="9" fill="#0038ff"/><rect x="6" y="174" width="9" height="9" fill="#000fff"/><rect x="14" y="174" width="9" height="9" fill="#000fff"/><rect x="22" y="174" width="9" height="9" fill="#000fff"/><rect x="30" y="174" width="9" height="9" fill="#000fff"/><rect x="38" y="174" width="9" height="9" fill="#000fff"/><rect x="46" y="174" width="9" height="9" fill="#000fff"/><rect x="54" y="174" width="9" height="9" fill="#000fff"/><rect x="62" y="174" width="9" height="9" fill="#000fff"/><rect x="70" y="174" width="9" height="9" fill="#000fff"/><rect x="78" y="174" width="9" height="9" fill="#000fff"/><rect x="86" y="174" width="9" height="9" fill="#000fff"/><rect x="-10" y="182" width="9" height="9" fill="#000fff"/><rect x="-2" y="182" width="9" height="9" fill="#000fff"/><rect x="6" y="182" width="9" height="9" fill="#000fff"/><rect x="14" y="182" width="9" height="9" fill="#000fff"/><rect x="22" y="182" width="9" height="9" fill="#000fff"/><rect x="30" y="182" width="9" height="9" fill="#0000e6"/><rect x="38" y="182" width="9" height="9" fill="#0000e6"/><rect x="46" y="182" width="9" height="9" fill="#0000e6"/><rect x="54" y="182" width="9" height="9" fill="#0000e6"/><rect x="62" y="182" width="9" height="9" fill="#0000e6"/><rect x="70" y="182" width="9" height="9" fill="#0000e6"/><rect x="78" y="182" width="9" height="9" fill="#0000e6"/><rect x="86" y="182" width="9" height="9" fill="#0000e6"/><rect x="-10" y="190" width="9" height="9" fill="#000fff"/><rect x="-2" y="190" width="9" height="9" fill="#000fff"/><rect x="6" y="190" width="9" height="9" fill="#000fff"/><rect x="14" y="190" width="9" height="9" fill="#000fff"/><rect x="22" y="190" width="9" height="9" fill="#000fff"/><rect x="30" y="190" width="9" height="9" fill="#0000e6"/><rect x="38" y="190" width="9" height="9" fill="#0000e6"/><rect x="46" y="190" width="9" height="9" fill="#0000e6"/><rect x="54" y="190" width="9" height="9" fill="#0000e6"/><rect x="62" y="190" width="9" height="9" fill="#0000e6"/><rect x="70" y="190" width="9" height="9" fill="#0000e6"/><rect x="78" y="190" width="9" height="9" fill="#0000e6"/><rect x="86" y="190" width="9" height="9" fill="#0000e6"/></g><g filter="url(#bl2)"></g></g>
<g transform="translate(0.6 0.6)"><use href="#map" clip-path="url(#clip)"/></g>
<text class="ax" x="-32.2" y="218.4" text-anchor="end" textLength="17.6" lengthAdjust="spacingAndGlyphs">22</text>
<circle cx="-27.6" cy="205.1" r="1.3" fill="none" stroke="#262626" stroke-width="0.8"/>
<text class="ax" x="-19.8" y="218.4" textLength="10.2" lengthAdjust="spacingAndGlyphs">N</text>
<text class="ax" x="-32.2" y="204.8" text-anchor="end" textLength="17.6" lengthAdjust="spacingAndGlyphs">24</text>
<circle cx="-27.6" cy="191.5" r="1.3" fill="none" stroke="#262626" stroke-width="0.8"/>
<text class="ax" x="-19.8" y="204.8" textLength="10.2" lengthAdjust="spacingAndGlyphs">N</text>
<text class="ax" x="-32.2" y="191.0" text-anchor="end" textLength="17.6" lengthAdjust="spacingAndGlyphs">26</text>
<circle cx="-27.6" cy="177.7" r="1.3" fill="none" stroke="#262626" stroke-width="0.8"/>
<text class="ax" x="-19.8" y="191.0" textLength="10.2" lengthAdjust="spacingAndGlyphs">N</text>
<text class="ax" x="-32.2" y="177.0" text-anchor="end" textLength="17.6" lengthAdjust="spacingAndGlyphs">28</text>
<circle cx="-27.6" cy="163.7" r="1.3" fill="none" stroke="#262626" stroke-width="0.8"/>
<text class="ax" x="-19.8" y="177.0" textLength="10.2" lengthAdjust="spacingAndGlyphs">N</text>
<text class="ax" x="-32.2" y="162.7" text-anchor="end" textLength="17.6" lengthAdjust="spacingAndGlyphs">30</text>
<circle cx="-27.6" cy="149.4" r="1.3" fill="none" stroke="#262626" stroke-width="0.8"/>
<text class="ax" x="-19.8" y="162.7" textLength="10.2" lengthAdjust="spacingAndGlyphs">N</text>
<text class="ax" x="-32.2" y="148.1" text-anchor="end" textLength="17.6" lengthAdjust="spacingAndGlyphs">32</text>
<circle cx="-27.6" cy="134.8" r="1.3" fill="none" stroke="#262626" stroke-width="0.8"/>
<text class="ax" x="-19.8" y="148.1" textLength="10.2" lengthAdjust="spacingAndGlyphs">N</text>
<text class="ax" x="-32.2" y="133.2" text-anchor="end" textLength="17.6" lengthAdjust="spacingAndGlyphs">34</text>
<circle cx="-27.6" cy="119.9" r="1.3" fill="none" stroke="#262626" stroke-width="0.8"/>
<text class="ax" x="-19.8" y="133.2" textLength="10.2" lengthAdjust="spacingAndGlyphs">N</text>
<text class="ax" x="-32.2" y="117.9" text-anchor="end" textLength="17.6" lengthAdjust="spacingAndGlyphs">36</text>
<circle cx="-27.6" cy="104.6" r="1.3" fill="none" stroke="#262626" stroke-width="0.8"/>
<text class="ax" x="-19.8" y="117.9" textLength="10.2" lengthAdjust="spacingAndGlyphs">N</text>
<text class="ax" x="-32.2" y="102.2" text-anchor="end" textLength="17.6" lengthAdjust="spacingAndGlyphs">38</text>
<circle cx="-27.6" cy="88.9" r="1.3" fill="none" stroke="#262626" stroke-width="0.8"/>
<text class="ax" x="-19.8" y="102.2" textLength="10.2" lengthAdjust="spacingAndGlyphs">N</text>
<text class="ax" x="-32.2" y="86.1" text-anchor="end" textLength="17.6" lengthAdjust="spacingAndGlyphs">40</text>
<circle cx="-27.6" cy="72.8" r="1.3" fill="none" stroke="#262626" stroke-width="0.8"/>
<text class="ax" x="-19.8" y="86.1" textLength="10.2" lengthAdjust="spacingAndGlyphs">N</text>
<text class="ax" x="-32.2" y="69.5" text-anchor="end" textLength="17.6" lengthAdjust="spacingAndGlyphs">42</text>
<circle cx="-27.6" cy="56.2" r="1.3" fill="none" stroke="#262626" stroke-width="0.8"/>
<text class="ax" x="-19.8" y="69.5" textLength="10.2" lengthAdjust="spacingAndGlyphs">N</text>
<text class="ax" x="-32.2" y="52.4" text-anchor="end" textLength="17.6" lengthAdjust="spacingAndGlyphs">44</text>
<circle cx="-27.6" cy="39.1" r="1.3" fill="none" stroke="#262626" stroke-width="0.8"/>
<text class="ax" x="-19.8" y="52.4" textLength="10.2" lengthAdjust="spacingAndGlyphs">N</text>
<text class="ax" x="-32.2" y="34.7" text-anchor="end" textLength="17.6" lengthAdjust="spacingAndGlyphs">46</text>
<circle cx="-27.6" cy="21.4" r="1.3" fill="none" stroke="#262626" stroke-width="0.8"/>
<text class="ax" x="-19.8" y="34.7" textLength="10.2" lengthAdjust="spacingAndGlyphs">N</text>
<text class="ax" x="-32.2" y="16.3" text-anchor="end" textLength="17.6" lengthAdjust="spacingAndGlyphs">48</text>
<circle cx="-27.6" cy="3.0" r="1.3" fill="none" stroke="#262626" stroke-width="0.8"/>
<text class="ax" x="-19.8" y="16.3" textLength="10.2" lengthAdjust="spacingAndGlyphs">N</text>
<text class="ax" x="44.4" y="-19.6" text-anchor="end" textLength="25.8" lengthAdjust="spacingAndGlyphs">100</text>
<circle cx="49.3" cy="-32" r="1.4" fill="none" stroke="#262626" stroke-width="0.8"/>
<text class="ax" x="56.7" y="-19.6" textLength="13.6" lengthAdjust="spacingAndGlyphs">W</text>
<text class="ax" x="107.5" y="-19.6" text-anchor="end" textLength="17.2" lengthAdjust="spacingAndGlyphs">90</text>
<circle cx="112.4" cy="-32" r="1.4" fill="none" stroke="#262626" stroke-width="0.8"/>
<text class="ax" x="119.8" y="-19.6" textLength="13.6" lengthAdjust="spacingAndGlyphs">W</text>
<text class="ax" x="170.5" y="-19.6" text-anchor="end" textLength="17.2" lengthAdjust="spacingAndGlyphs">80</text>
<circle cx="175.4" cy="-32" r="1.4" fill="none" stroke="#262626" stroke-width="0.8"/>
<text class="ax" x="182.8" y="-19.6" textLength="13.6" lengthAdjust="spacingAndGlyphs">W</text>
<text class="ax" x="233.5" y="-19.6" text-anchor="end" textLength="17.2" lengthAdjust="spacingAndGlyphs">70</text>
<circle cx="238.4" cy="-32" r="1.4" fill="none" stroke="#262626" stroke-width="0.8"/>
<text class="ax" x="245.8" y="-19.6" textLength="13.6" lengthAdjust="spacingAndGlyphs">W</text>
<text class="st" x="-55.0" y="244.5" textLength="334.4" lengthAdjust="spacingAndGlyphs">SAT 250 hPa RH (Percent)</text>
</g>
<rect x="1285.6" y="93.7" width="22.5" height="218.3" fill="url(#jet)" stroke="#1a1a1a" stroke-width="1.1"/>
<path d="M1308.1 202.8h-3" stroke="#262626" stroke-width="1"/>
<text class="cb" x="1319.0" y="100.7" textLength="40.8" lengthAdjust="spacingAndGlyphs">100</text>
<text class="cb" x="1318.2" y="210.3" textLength="26.4" lengthAdjust="spacingAndGlyphs">50</text>
<text class="cb" x="1317.9" y="320.0" textLength="13.4" lengthAdjust="spacingAndGlyphs">0</text>
<g transform="translate(195.50 486.45) scale(1.0000 1.0000)">
<rect x="0" y="0" width="234.1" height="213.1" fill="none" stroke="#262626" stroke-width="1.2"/>
<g clip-path="url(#swath2)"><g filter="url(#bl)"><rect x="-10" y="142" width="9" height="9" fill="#c70000"/><rect x="-2" y="142" width="9" height="9" fill="#c70000"/><rect x="6" y="142" width="9" height="9" fill="#ff8a00"/><rect x="14" y="142" width="9" height="9" fill="#ffb200"/><rect x="22" y="142" width="9" height="9" fill="#2effd1"/><rect x="30" y="142" width="9" height="9" fill="#05fffa"/><rect x="38" y="142" width="9" height="9" fill="#05fffa"/><rect x="46" y="142" width="9" height="9" fill="#00dbff"/><rect x="54" y="142" width="9" height="9" fill="#00b3ff"/><rect x="62" y="142" width="9" height="9" fill="#00b3ff"/><rect x="70" y="142" width="9" height="9" fill="#00b3ff"/><rect x="78" y="142" width="9" height="9" fill="#00b3ff"/><rect x="86" y="142" width="9" height="9" fill="#00b3ff"/><rect x="-10" y="150" width="9" height="9" fill="#a8ff57"/><rect x="-2" y="150" width="9" height="9" fill="#a8ff57"/><rect x="6" y="150" width="9" height="9" fill="#d1ff2e"/><rect x="14" y="150" width="9" height="9" fill="#57ffa8"/><rect x="22" y="150" width="9" height="9" fill="#05fffa"/><rect x="30" y="150" width="9" height="9" fill="#00b3ff"/><rect x="38" y="150" width="9" height="9" fill="#008aff"/><rect x="46" y="150" width="9" height="9" fill="#008aff"/><rect x="54" y="150" width="9" height="9" fill="#008aff"/><rect x="62" y="150" width="9" height="9" fill="#008aff"/><rect x="70" y="150" width="9" height="9" fill="#008aff"/><rect x="78" y="150" width="9" height="9" fill="#008aff"/><rect x="86" y="150" width="9" height="9" fill="#008aff"/><rect x="-10" y="158" width="9" height="9" fill="#a8ff57"/><rect x="-2" y="158" width="9" height="9" fill="#a8ff57"/><rect x="6" y="158" width="9" height="9" fill="#57ffa8"/><rect x="14" y="158" width="9" height="9" fill="#00dbff"/><rect x="22" y="158" width="9" height="9" fill="#00b3ff"/><rect x="30" y="158" width="9" height="9" fill="#0038ff"/><rect x="38" y="158" width="9" height="9" fill="#0038ff"/><rect x="46" y="158" width="9" height="9" fill="#0061ff"/><rect x="54" y="158" width="9" height="9" fill="#008aff"/><rect x="62" y="158" width="9" height="9" fill="#0038ff"/><rect x="70" y="158" width="9" height="9" fill="#0038ff"/><rect x="78" y="158" width="9" height="9" fill="#0038ff"/><rect x="86" y="158" width="9" height="9" fill="#0038ff"/><rect x="-10" y="166" width="9" height="9" fill="#05fffa"/><rect x="-2" y="166" width="9" height="9" fill="#05fffa"/><rect x="6" y="166" width="9" height="9" fill="#00b3ff"/><rect x="14" y="166" width="9" height="9" fill="#0061ff"/><rect x="22" y="166" width="9" height="9" fill="#0038ff"/><rect x="30" y="166" width="9" height="9" fill="#000fff"/><rect x="38" y="166" width="9" height="9" fill="#000fff"/><rect x="46" y="166" width="9" height="9" fill="#0038ff"/><rect x="54" y="166" width="9" height="9" fill="#000fff"/><rect x="62" y="166" width="9" height="9" fill="#00dbff"/><rect x="70" y="166" width="9" height="9" fill="#00dbff"/><rect x="78" y="166" width="9" height="9" fill="#00dbff"/><rect x="86" y="166" width="9" height="9" fill="#00dbff"/><rect x="-10" y="174" width="9" height="9" fill="#008aff"/><rect x="-2" y="174" width="9" height="9" fill="#008aff"/><rect x="6" y="174" width="9" height="9" fill="#0038ff"/><rect x="14" y="174" width="9" height="9" fill="#000fff"/><rect x="22" y="174" width="9" height="9" fill="#000fff"/><rect x="30" y="174" width="9" height="9" fill="#000fff"/><rect x="38" y="174" width="9" height="9" fill="#0061ff"/><rect x="46" y="174" width="9" height="9" fill="#2effd1"/><rect x="54" y="174" width="9" height="9" fill="#57ffa8"/><rect x="62" y="174" width="9" height="9" fill="#05fffa"/><rect x="70" y="174" width="9" height="9" fill="#05fffa"/><rect x="78" y="174" width="9" height="9" fill="#05fffa"/><rect x="86" y="174" width="9" height="9" fill="#05fffa"/><rect x="-10" y="182" width="9" height="9" fill="#0038ff"/><rect x="-2" y="182" width="9" height="9" fill="#0038ff"/><rect x="6" y="182" width="9" height="9" fill="#000fff"/><rect x="14" y="182" width="9" height="9" fill="#000fff"/><rect x="22" y="182" width="9" height="9" fill="#0038ff"/><rect x="30" y="182" width="9" height="9" fill="#008aff"/><rect x="38" y="182" width="9" height="9" fill="#05fffa"/><rect x="46" y="182" width="9" height="9" fill="#05fffa"/><rect x="54" y="182" width="9" height="9" fill="#05fffa"/><rect x="62" y="182" width="9" height="9" fill="#05fffa"/><rect x="70" y="182" width="9" height="9" fill="#05fffa"/><rect x="78" y="182" width="9" height="9" fill="#05fffa"/><rect x="86" y="182" width="9" height="9" fill="#05fffa"/><rect x="-10" y="190" width="9" height="9" fill="#0038ff"/><rect x="-2" y="190" width="9" height="9" fill="#0038ff"/><rect x="6" y="190" width="9" height="9" fill="#000fff"/><rect x="14" y="190" width="9" height="9" fill="#000fff"/><rect x="22" y="190" width="9" height="9" fill="#0038ff"/><rect x="30" y="190" width="9" height="9" fill="#008aff"/><rect x="38" y="190" width="9" height="9" fill="#05fffa"/><rect x="46" y="190" width="9" height="9" fill="#05fffa"/><rect x="54" y="190" width="9" height="9" fill="#05fffa"/><rect x="62" y="190" width="9" height="9" fill="#05fffa"/><rect x="70" y="190" width="9" height="9" fill="#05fffa"/><rect x="78" y="190" width="9" height="9" fill="#05fffa"/><rect x="86" y="190" width="9" height="9" fill="#05fffa"/></g><g filter="url(#bl2)"><circle cx="0.6" cy="0.6" r="5.3" fill="#000fff"/><circle cx="10.0" cy="1.3" r="5.3" fill="#000fff"/><circle cx="19.4" cy="2.0" r="5.3" fill="#0038ff"/><circle cx="25.3" cy="2.7" r="5.3" fill="#008aff"/><circle cx="34.7" cy="3.4" r="5.3" fill="#ff8a00"/><circle cx="50.0" cy="1.3" r="5.3" fill="#f00000"/><circle cx="2.7" cy="8.6" r="5.3" fill="#000fff"/><circle cx="8.6" cy="9.3" r="5.3" fill="#0061ff"/><circle cx="18.0" cy="10.0" r="5.3" fill="#0038ff"/><circle cx="27.4" cy="10.7" r="5.3" fill="#0038ff"/><circle cx="33.3" cy="11.4" r="5.3" fill="#ffb200"/><circle cx="48.6" cy="9.3" r="5.3" fill="#57ffa8"/><circle cx="1.3" cy="16.6" r="5.3" fill="#000fff"/><circle cx="10.7" cy="17.3" r="5.3" fill="#0061ff"/><circle cx="16.6" cy="18.0" r="5.3" fill="#0038ff"/><circle cx="26.0" cy="18.7" r="5.3" fill="#008aff"/><circle cx="35.4" cy="19.4" r="5.3" fill="#008aff"/><circle cx="41.3" cy="16.6" r="5.3" fill="#f00000"/><circle cx="50.7" cy="17.3" r="5.3" fill="#05fffa"/><circle cx="3.4" cy="24.6" r="5.3" fill="#0000e6"/><circle cx="9.3" cy="25.3" r="5.3" fill="#000fff"/><circle cx="18.7" cy="26.0" r="5.3" fill="#0038ff"/><circle cx="24.6" cy="26.7" r="5.3" fill="#008aff"/><circle cx="34.0" cy="27.4" r="5.3" fill="#008aff"/><circle cx="43.4" cy="24.6" r="5.3" fill="#000fff"/><circle cx="49.3" cy="25.3" r="5.3" fill="#008aff"/><circle cx="2.0" cy="32.6" r="5.3" fill="#0000e6"/><circle cx="11.4" cy="33.3" r="5.3" fill="#0000e6"/><circle cx="17.3" cy="34.0" r="5.3" fill="#000fff"/><circle cx="26.7" cy="34.7" r="5.3" fill="#0038ff"/><circle cx="32.6" cy="35.4" r="5.3" fill="#0038ff"/><circle cx="42.0" cy="32.6" r="5.3" fill="#0061ff"/><circle cx="51.4" cy="33.3" r="5.3" fill="#00dbff"/><circle cx="0.6" cy="40.6" r="5.3" fill="#0000e6"/><circle cx="10.0" cy="41.3" r="5.3" fill="#0038ff"/><circle cx="19.4" cy="42.0" r="5.3" fill="#0038ff"/><circle cx="25.3" cy="42.7" r="5.3" fill="#0038ff"/><circle cx="34.7" cy="43.4" r="5.3" fill="#008aff"/><circle cx="40.6" cy="40.6" r="5.3" fill="#008aff"/><circle cx="50.0" cy="41.3" r="5.3" fill="#05fffa"/><circle cx="2.7" cy="48.6" r="5.3" fill="#000fff"/><circle cx="8.6" cy="49.3" r="5.3" fill="#ff8a00"/><circle cx="18.0" cy="50.0" r="5.3" fill="#0038ff"/><circle cx="27.4" cy="50.7" r="5.3" fill="#000fff"/><circle cx="33.3" cy="51.4" r="5.3" fill="#c70000"/><circle cx="42.7" cy="48.6" r="5.3" fill="#00dbff"/><circle cx="48.6" cy="49.3" r="5.3" fill="#008aff"/><circle cx="58.0" cy="50.0" r="5.3" fill="#0061ff"/><circle cx="1.3" cy="56.6" r="5.3" fill="#0038ff"/><circle cx="10.7" cy="57.3" r="5.3" fill="#a8ff57"/><circle cx="16.6" cy="58.0" r="5.3" fill="#d1ff2e"/><circle cx="26.0" cy="58.7" r="5.3" fill="#9e0000"/><circle cx="35.4" cy="59.4" r="5.3" fill="#9e0000"/><circle cx="41.3" cy="56.6" r="5.3" fill="#c70000"/><circle cx="50.7" cy="57.3" r="5.3" fill="#9e0000"/><circle cx="56.6" cy="58.0" r="5.3" fill="#00b3ff"/><circle cx="3.4" cy="64.6" r="5.3" fill="#0038ff"/><circle cx="9.3" cy="65.3" r="5.3" fill="#008aff"/><circle cx="18.7" cy="66.0" r="5.3" fill="#0061ff"/><circle cx="24.6" cy="66.7" r="5.3" fill="#008aff"/><circle cx="34.0" cy="67.4" r="5.3" fill="#c70000"/><circle cx="43.4" cy="64.6" r="5.3" fill="#9e0000"/><circle cx="49.3" cy="65.3" r="5.3" fill="#9e0000"/><circle cx="58.7" cy="66.0" r="5.3" fill="#00dbff"/><circle cx="2.0" cy="72.6" r="5.3" fill="#000fff"/><circle cx="11.4" cy="73.3" r="5.3" fill="#0061ff"/><circle cx="17.3" cy="74.0" r="5.3" fill="#00b3ff"/><circle cx="26.7" cy="74.7" r="5.3" fill="#d1ff2e"/><circle cx="51.4" cy="73.3" r="5.3" fill="#9e0000"/><circle cx="0.6" cy="80.6" r="5.3" fill="#f00000"/><circle cx="10.0" cy="81.3" r="5.3" fill="#05fffa"/><circle cx="19.4" cy="82.0" r="5.3" fill="#9e0000"/><circle cx="59.4" cy="82.0" r="5.3" fill="#f00000"/><circle cx="2.7" cy="88.6" r="5.3" fill="#000fff"/><circle cx="8.6" cy="89.3" r="5.3" fill="#d1ff2e"/><circle cx="18.0" cy="90.0" r="5.3" fill="#80ff80"/><circle cx="27.4" cy="90.7" r="5.3" fill="#faff05"/><circle cx="33.3" cy="91.4" r="5.3" fill="#008aff"/><circle cx="42.7" cy="88.6" r="5.3" fill="#008aff"/><circle cx="1.3" cy="96.6" r="5.3" fill="#000fff"/><circle cx="10.7" cy="97.3" r="5.3" fill="#0061ff"/><circle cx="16.6" cy="98.0" r="5.3" fill="#57ffa8"/><circle cx="26.0" cy="98.7" r="5.3" fill="#c70000"/><circle cx="35.4" cy="99.4" r="5.3" fill="#0038ff"/><circle cx="41.3" cy="96.6" r="5.3" fill="#f00000"/><circle cx="50.7" cy="97.3" r="5.3" fill="#ffb200"/><circle cx="56.6" cy="98.0" r="5.3" fill="#ffb200"/><circle cx="3.4" cy="104.6" r="5.3" fill="#0038ff"/><circle cx="9.3" cy="105.3" r="5.3" fill="#0061ff"/><circle cx="18.7" cy="106.0" r="5.3" fill="#ff6100"/><circle cx="24.6" cy="106.7" r="5.3" fill="#faff05"/><circle cx="34.0" cy="107.4" r="5.3" fill="#faff05"/><circle cx="43.4" cy="104.6" r="5.3" fill="#008aff"/><circle cx="49.3" cy="105.3" r="5.3" fill="#008aff"/><circle cx="58.7" cy="106.0" r="5.3" fill="#008aff"/><circle cx="2.0" cy="112.6" r="5.3" fill="#008aff"/><circle cx="11.4" cy="113.3" r="5.3" fill="#ffb200"/><circle cx="17.3" cy="114.0" r="5.3" fill="#ff6100"/><circle cx="26.7" cy="114.7" r="5.3" fill="#05fffa"/><circle cx="32.6" cy="115.4" r="5.3" fill="#00dbff"/><circle cx="42.0" cy="112.6" r="5.3" fill="#ffb200"/><circle cx="57.3" cy="114.0" r="5.3" fill="#ffdb00"/><circle cx="0.6" cy="120.6" r="5.3" fill="#ff6100"/><circle cx="10.0" cy="121.3" r="5.3" fill="#ff8a00"/><circle cx="19.4" cy="122.0" r="5.3" fill="#05fffa"/><circle cx="25.3" cy="122.7" r="5.3" fill="#05fffa"/><circle cx="34.7" cy="123.4" r="5.3" fill="#00b3ff"/><circle cx="50.0" cy="121.3" r="5.3" fill="#05fffa"/><circle cx="59.4" cy="122.0" r="5.3" fill="#d1ff2e"/><circle cx="2.7" cy="128.6" r="5.3" fill="#f00000"/><circle cx="8.6" cy="129.3" r="5.3" fill="#a8ff57"/><circle cx="18.0" cy="130.0" r="5.3" fill="#f00000"/><circle cx="33.3" cy="131.4" r="5.3" fill="#9e0000"/><circle cx="42.7" cy="128.6" r="5.3" fill="#9e0000"/><circle cx="48.6" cy="129.3" r="5.3" fill="#faff05"/><circle cx="58.0" cy="130.0" r="5.3" fill="#57ffa8"/><circle cx="67.4" cy="130.7" r="5.3" fill="#57ffa8"/><circle cx="1.3" cy="136.6" r="5.3" fill="#c70000"/><circle cx="10.7" cy="137.3" r="5.3" fill="#ff6100"/><circle cx="16.6" cy="138.0" r="5.3" fill="#05fffa"/><circle cx="26.0" cy="138.7" r="5.3" fill="#ffb200"/><circle cx="35.4" cy="139.4" r="5.3" fill="#9e0000"/><circle cx="41.3" cy="136.6" r="5.3" fill="#9e0000"/><circle cx="50.7" cy="137.3" r="5.3" fill="#80ff80"/><circle cx="56.6" cy="138.0" r="5.3" fill="#00dbff"/><circle cx="66.0" cy="138.7" r="5.3" fill="#00dbff"/></g></g>
<g transform="translate(0.6 0.6)"><use href="#map" clip-path="url(#clip)"/></g>
<text class="ax" x="-32.2" y="218.4" text-anchor="end" textLength="17.6" lengthAdjust="spacingAndGlyphs">22</text>
<circle cx="-27.6" cy="205.1" r="1.3" fill="none" stroke="#262626" stroke-width="0.8"/>
<text class="ax" x="-19.8" y="218.4" textLength="10.2" lengthAdjust="spacingAndGlyphs">N</text>
<text class="ax" x="-32.2" y="204.8" text-anchor="end" textLength="17.6" lengthAdjust="spacingAndGlyphs">24</text>
<circle cx="-27.6" cy="191.5" r="1.3" fill="none" stroke="#262626" stroke-width="0.8"/>
<text class="ax" x="-19.8" y="204.8" textLength="10.2" lengthAdjust="spacingAndGlyphs">N</text>
<text class="ax" x="-32.2" y="191.0" text-anchor="end" textLength="17.6" lengthAdjust="spacingAndGlyphs">26</text>
<circle cx="-27.6" cy="177.7" r="1.3" fill="none" stroke="#262626" stroke-width="0.8"/>
<text class="ax" x="-19.8" y="191.0" textLength="10.2" lengthAdjust="spacingAndGlyphs">N</text>
<text class="ax" x="-32.2" y="177.0" text-anchor="end" textLength="17.6" lengthAdjust="spacingAndGlyphs">28</text>
<circle cx="-27.6" cy="163.7" r="1.3" fill="none" stroke="#262626" stroke-width="0.8"/>
<text class="ax" x="-19.8" y="177.0" textLength="10.2" lengthAdjust="spacingAndGlyphs">N</text>
<text class="ax" x="-32.2" y="162.7" text-anchor="end" textLength="17.6" lengthAdjust="spacingAndGlyphs">30</text>
<circle cx="-27.6" cy="149.4" r="1.3" fill="none" stroke="#262626" stroke-width="0.8"/>
<text class="ax" x="-19.8" y="162.7" textLength="10.2" lengthAdjust="spacingAndGlyphs">N</text>
<text class="ax" x="-32.2" y="148.1" text-anchor="end" textLength="17.6" lengthAdjust="spacingAndGlyphs">32</text>
<circle cx="-27.6" cy="134.8" r="1.3" fill="none" stroke="#262626" stroke-width="0.8"/>
<text class="ax" x="-19.8" y="148.1" textLength="10.2" lengthAdjust="spacingAndGlyphs">N</text>
<text class="ax" x="-32.2" y="133.2" text-anchor="end" textLength="17.6" lengthAdjust="spacingAndGlyphs">34</text>
<circle cx="-27.6" cy="119.9" r="1.3" fill="none" stroke="#262626" stroke-width="0.8"/>
<text class="ax" x="-19.8" y="133.2" textLength="10.2" lengthAdjust="spacingAndGlyphs">N</text>
<text class="ax" x="-32.2" y="117.9" text-anchor="end" textLength="17.6" lengthAdjust="spacingAndGlyphs">36</text>
<circle cx="-27.6" cy="104.6" r="1.3" fill="none" stroke="#262626" stroke-width="0.8"/>
<text class="ax" x="-19.8" y="117.9" textLength="10.2" lengthAdjust="spacingAndGlyphs">N</text>
<text class="ax" x="-32.2" y="102.2" text-anchor="end" textLength="17.6" lengthAdjust="spacingAndGlyphs">38</text>
<circle cx="-27.6" cy="88.9" r="1.3" fill="none" stroke="#262626" stroke-width="0.8"/>
<text class="ax" x="-19.8" y="102.2" textLength="10.2" lengthAdjust="spacingAndGlyphs">N</text>
<text class="ax" x="-32.2" y="86.1" text-anchor="end" textLength="17.6" lengthAdjust="spacingAndGlyphs">40</text>
<circle cx="-27.6" cy="72.8" r="1.3" fill="none" stroke="#262626" stroke-width="0.8"/>
<text class="ax" x="-19.8" y="86.1" textLength="10.2" lengthAdjust="spacingAndGlyphs">N</text>
<text class="ax" x="-32.2" y="69.5" text-anchor="end" textLength="17.6" lengthAdjust="spacingAndGlyphs">42</text>
<circle cx="-27.6" cy="56.2" r="1.3" fill="none" stroke="#262626" stroke-width="0.8"/>
<text class="ax" x="-19.8" y="69.5" textLength="10.2" lengthAdjust="spacingAndGlyphs">N</text>
<text class="ax" x="-32.2" y="52.4" text-anchor="end" textLength="17.6" lengthAdjust="spacingAndGlyphs">44</text>
<circle cx="-27.6" cy="39.1" r="1.3" fill="none" stroke="#262626" stroke-width="0.8"/>
<text class="ax" x="-19.8" y="52.4" textLength="10.2" lengthAdjust="spacingAndGlyphs">N</text>
<text class="ax" x="-32.2" y="34.7" text-anchor="end" textLength="17.6" lengthAdjust="spacingAndGlyphs">46</text>
<circle cx="-27.6" cy="21.4" r="1.3" fill="none" stroke="#262626" stroke-width="0.8"/>
<text class="ax" x="-19.8" y="34.7" textLength="10.2" lengthAdjust="spacingAndGlyphs">N</text>
<text class="ax" x="-32.2" y="16.3" text-anchor="end" textLength="17.6" lengthAdjust="spacingAndGlyphs">48</text>
<circle cx="-27.6" cy="3.0" r="1.3" fill="none" stroke="#262626" stroke-width="0.8"/>
<text class="ax" x="-19.8" y="16.3" textLength="10.2" lengthAdjust="spacingAndGlyphs">N</text>
<text class="ax" x="44.4" y="-19.6" text-anchor="end" textLength="25.8" lengthAdjust="spacingAndGlyphs">100</text>
<circle cx="49.3" cy="-32" r="1.4" fill="none" stroke="#262626" stroke-width="0.8"/>
<text class="ax" x="56.7" y="-19.6" textLength="13.6" lengthAdjust="spacingAndGlyphs">W</text>
<text class="ax" x="107.5" y="-19.6" text-anchor="end" textLength="17.2" lengthAdjust="spacingAndGlyphs">90</text>
<circle cx="112.4" cy="-32" r="1.4" fill="none" stroke="#262626" stroke-width="0.8"/>
<text class="ax" x="119.8" y="-19.6" textLength="13.6" lengthAdjust="spacingAndGlyphs">W</text>
<text class="ax" x="170.5" y="-19.6" text-anchor="end" textLength="17.2" lengthAdjust="spacingAndGlyphs">80</text>
<circle cx="175.4" cy="-32" r="1.4" fill="none" stroke="#262626" stroke-width="0.8"/>
<text class="ax" x="182.8" y="-19.6" textLength="13.6" lengthAdjust="spacingAndGlyphs">W</text>
<text class="ax" x="233.5" y="-19.6" text-anchor="end" textLength="17.2" lengthAdjust="spacingAndGlyphs">70</text>
<circle cx="238.4" cy="-32" r="1.4" fill="none" stroke="#262626" stroke-width="0.8"/>
<text class="ax" x="245.8" y="-19.6" textLength="13.6" lengthAdjust="spacingAndGlyphs">W</text>
<text class="st" x="-55.0" y="244.5" textLength="334.4" lengthAdjust="spacingAndGlyphs">SAT 300 hPa RH (Percent)</text>
</g>
<rect x="441.8" y="485.7" width="22.5" height="214.5" fill="url(#jet)" stroke="#1a1a1a" stroke-width="1.1"/>
<path d="M464.3 593.0h-3" stroke="#262626" stroke-width="1"/>
<text class="cb" x="475.2" y="492.7" textLength="40.8" lengthAdjust="spacingAndGlyphs">100</text>
<text class="cb" x="474.4" y="600.5" textLength="26.4" lengthAdjust="spacingAndGlyphs">50</text>
<text class="cb" x="474.1" y="708.2" textLength="13.4" lengthAdjust="spacingAndGlyphs">0</text>
<g transform="translate(616.70 486.50) scale(1.0000 1.0000)">
<rect x="0" y="0" width="234.1" height="213.1" fill="none" stroke="#262626" stroke-width="1.2"/>
<g clip-path="url(#swath2)"><g filter="url(#bl)"><rect x="-10" y="142" width="9" height="9" fill="#a8ff57"/><rect x="-2" y="142" width="9" height="9" fill="#a8ff57"/><rect x="6" y="142" width="9" height="9" fill="#008aff"/><rect x="14" y="142" width="9" height="9" fill="#80ff80"/><rect x="22" y="142" width="9" height="9" fill="#0061ff"/><rect x="30" y="142" width="9" height="9" fill="#00b3ff"/><rect x="38" y="142" width="9" height="9" fill="#0061ff"/><rect x="46" y="142" width="9" height="9" fill="#008aff"/><rect x="54" y="142" width="9" height="9" fill="#0038ff"/><rect x="62" y="142" width="9" height="9" fill="#0038ff"/><rect x="70" y="142" width="9" height="9" fill="#0038ff"/><rect x="78" y="142" width="9" height="9" fill="#0038ff"/><rect x="86" y="142" width="9" height="9" fill="#0038ff"/><rect x="-10" y="150" width="9" height="9" fill="#00dbff"/><rect x="-2" y="150" width="9" height="9" fill="#00dbff"/><rect x="6" y="150" width="9" height="9" fill="#008aff"/><rect x="14" y="150" width="9" height="9" fill="#00b3ff"/><rect x="22" y="150" width="9" height="9" fill="#0038ff"/><rect x="30" y="150" width="9" height="9" fill="#0038ff"/><rect x="38" y="150" width="9" height="9" fill="#0038ff"/><rect x="46" y="150" width="9" height="9" fill="#0038ff"/><rect x="54" y="150" width="9" height="9" fill="#008aff"/><rect x="62" y="150" width="9" height="9" fill="#008aff"/><rect x="70" y="150" width="9" height="9" fill="#008aff"/><rect x="78" y="150" width="9" height="9" fill="#008aff"/><rect x="86" y="150" width="9" height="9" fill="#008aff"/><rect x="-10" y="158" width="9" height="9" fill="#008aff"/><rect x="-2" y="158" width="9" height="9" fill="#008aff"/><rect x="6" y="158" width="9" height="9" fill="#0061ff"/><rect x="14" y="158" width="9" height="9" fill="#0038ff"/><rect x="22" y="158" width="9" height="9" fill="#000fff"/><rect x="30" y="158" width="9" height="9" fill="#000fff"/><rect x="38" y="158" width="9" height="9" fill="#0038ff"/><rect x="46" y="158" width="9" height="9" fill="#000fff"/><rect x="54" y="158" width="9" height="9" fill="#0038ff"/><rect x="62" y="158" width="9" height="9" fill="#0038ff"/><rect x="70" y="158" width="9" height="9" fill="#0038ff"/><rect x="78" y="158" width="9" height="9" fill="#0038ff"/><rect x="86" y="158" width="9" height="9" fill="#0038ff"/><rect x="-10" y="166" width="9" height="9" fill="#0038ff"/><rect x="-2" y="166" width="9" height="9" fill="#0038ff"/><rect x="6" y="166" width="9" height="9" fill="#000fff"/><rect x="14" y="166" width="9" height="9" fill="#000fff"/><rect x="22" y="166" width="9" height="9" fill="#000fff"/><rect x="30" y="166" width="9" height="9" fill="#000fff"/><rect x="38" y="166" width="9" height="9" fill="#000fff"/><rect x="46" y="166" width="9" height="9" fill="#000fff"/><rect x="54" y="166" width="9" height="9" fill="#000fff"/><rect x="62" y="166" width="9" height="9" fill="#0061ff"/><rect x="70" y="166" width="9" height="9" fill="#0061ff"/><rect x="78" y="166" width="9" height="9" fill="#0061ff"/><rect x="86" y="166" width="9" height="9" fill="#0061ff"/><rect x="-10" y="174" width="9" height="9" fill="#000fff"/><rect x="-2" y="174" width="9" height="9" fill="#000fff"/><rect x="6" y="174" width="9" height="9" fill="#000fff"/><rect x="14" y="174" width="9" height="9" fill="#000fff"/><rect x="22" y="174" width="9" height="9" fill="#0038ff"/><rect x="30" y="174" width="9" height="9" fill="#00b3ff"/><rect x="38" y="174" width="9" height="9" fill="#00dbff"/><rect x="46" y="174" width="9" height="9" fill="#d1ff2e"/><rect x="54" y="174" width="9" height="9" fill="#a8ff57"/><rect x="62" y="174" width="9" height="9" fill="#05fffa"/><rect x="70" y="174" width="9" height="9" fill="#05fffa"/><rect x="78" y="174" width="9" height="9" fill="#05fffa"/><rect x="86" y="174" width="9" height="9" fill="#05fffa"/><rect x="-10" y="182" width="9" height="9" fill="#000fff"/><rect x="-2" y="182" width="9" height="9" fill="#000fff"/><rect x="6" y="182" width="9" height="9" fill="#05fffa"/><rect x="14" y="182" width="9" height="9" fill="#57ffa8"/><rect x="22" y="182" width="9" height="9" fill="#80ff80"/><rect x="30" y="182" width="9" height="9" fill="#80ff80"/><rect x="38" y="182" width="9" height="9" fill="#80ff80"/><rect x="46" y="182" width="9" height="9" fill="#80ff80"/><rect x="54" y="182" width="9" height="9" fill="#80ff80"/><rect x="62" y="182" width="9" height="9" fill="#80ff80"/><rect x="70" y="182" width="9" height="9" fill="#80ff80"/><rect x="78" y="182" width="9" height="9" fill="#80ff80"/><rect x="86" y="182" width="9" height="9" fill="#80ff80"/><rect x="-10" y="190" width="9" height="9" fill="#000fff"/><rect x="-2" y="190" width="9" height="9" fill="#000fff"/><rect x="6" y="190" width="9" height="9" fill="#05fffa"/><rect x="14" y="190" width="9" height="9" fill="#57ffa8"/><rect x="22" y="190" width="9" height="9" fill="#80ff80"/><rect x="30" y="190" width="9" height="9" fill="#80ff80"/><rect x="38" y="190" width="9" height="9" fill="#80ff80"/><rect x="46" y="190" width="9" height="9" fill="#80ff80"/><rect x="54" y="190" width="9" height="9" fill="#80ff80"/><rect x="62" y="190" width="9" height="9" fill="#80ff80"/><rect x="70" y="190" width="9" height="9" fill="#80ff80"/><rect x="78" y="190" width="9" height="9" fill="#80ff80"/><rect x="86" y="190" width="9" height="9" fill="#80ff80"/></g><g filter="url(#bl2)"><circle cx="25.3" cy="2.7" r="5.3" fill="#008aff"/><circle cx="50.0" cy="1.3" r="5.3" fill="#f00000"/><circle cx="2.7" cy="8.6" r="5.3" fill="#008aff"/><circle cx="18.0" cy="10.0" r="5.3" fill="#05fffa"/><circle cx="27.4" cy="10.7" r="5.3" fill="#008aff"/><circle cx="33.3" cy="11.4" r="5.3" fill="#008aff"/><circle cx="42.7" cy="8.6" r="5.3" fill="#ffb200"/><circle cx="1.3" cy="16.6" r="5.3" fill="#000fff"/><circle cx="10.7" cy="17.3" r="5.3" fill="#0038ff"/><circle cx="16.6" cy="18.0" r="5.3" fill="#00dbff"/><circle cx="26.0" cy="18.7" r="5.3" fill="#008aff"/><circle cx="35.4" cy="19.4" r="5.3" fill="#57ffa8"/><circle cx="3.4" cy="24.6" r="5.3" fill="#0000e6"/><circle cx="9.3" cy="25.3" r="5.3" fill="#000fff"/><circle cx="18.7" cy="26.0" r="5.3" fill="#008aff"/><circle cx="24.6" cy="26.7" r="5.3" fill="#008aff"/><circle cx="34.0" cy="27.4" r="5.3" fill="#57ffa8"/><circle cx="43.4" cy="24.6" r="5.3" fill="#57ffa8"/><circle cx="49.3" cy="25.3" r="5.3" fill="#2effd1"/><circle cx="2.0" cy="32.6" r="5.3" fill="#0000e6"/><circle cx="11.4" cy="33.3" r="5.3" fill="#0000e6"/><circle cx="17.3" cy="34.0" r="5.3" fill="#000fff"/><circle cx="26.7" cy="34.7" r="5.3" fill="#0038ff"/><circle cx="32.6" cy="35.4" r="5.3" fill="#008aff"/><circle cx="42.0" cy="32.6" r="5.3" fill="#00b3ff"/><circle cx="51.4" cy="33.3" r="5.3" fill="#57ffa8"/><circle cx="0.6" cy="40.6" r="5.3" fill="#000fff"/><circle cx="10.0" cy="41.3" r="5.3" fill="#0061ff"/><circle cx="25.3" cy="42.7" r="5.3" fill="#00dbff"/><circle cx="34.7" cy="43.4" r="5.3" fill="#05fffa"/><circle cx="40.6" cy="40.6" r="5.3" fill="#05fffa"/><circle cx="50.0" cy="41.3" r="5.3" fill="#05fffa"/><circle cx="2.7" cy="48.6" r="5.3" fill="#0061ff"/><circle cx="8.6" cy="49.3" r="5.3" fill="#008aff"/><circle cx="27.4" cy="50.7" r="5.3" fill="#000fff"/><circle cx="33.3" cy="51.4" r="5.3" fill="#05fffa"/><circle cx="42.7" cy="48.6" r="5.3" fill="#00dbff"/><circle cx="48.6" cy="49.3" r="5.3" fill="#00b3ff"/><circle cx="1.3" cy="56.6" r="5.3" fill="#0038ff"/><circle cx="10.7" cy="57.3" r="5.3" fill="#008aff"/><circle cx="16.6" cy="58.0" r="5.3" fill="#ffb200"/><circle cx="35.4" cy="59.4" r="5.3" fill="#008aff"/><circle cx="3.4" cy="64.6" r="5.3" fill="#000fff"/><circle cx="9.3" cy="65.3" r="5.3" fill="#008aff"/><circle cx="18.7" cy="66.0" r="5.3" fill="#008aff"/><circle cx="24.6" cy="66.7" r="5.3" fill="#0038ff"/><circle cx="2.0" cy="72.6" r="5.3" fill="#0038ff"/><circle cx="11.4" cy="73.3" r="5.3" fill="#00b3ff"/><circle cx="17.3" cy="74.0" r="5.3" fill="#00b3ff"/><circle cx="26.7" cy="74.7" r="5.3" fill="#00dbff"/><circle cx="0.6" cy="80.6" r="5.3" fill="#000fff"/><circle cx="10.0" cy="81.3" r="5.3" fill="#008aff"/><circle cx="19.4" cy="82.0" r="5.3" fill="#57ffa8"/><circle cx="2.7" cy="88.6" r="5.3" fill="#000fff"/><circle cx="8.6" cy="89.3" r="5.3" fill="#0061ff"/><circle cx="18.0" cy="90.0" r="5.3" fill="#d1ff2e"/><circle cx="33.3" cy="91.4" r="5.3" fill="#ffb200"/><circle cx="1.3" cy="96.6" r="5.3" fill="#000fff"/><circle cx="10.7" cy="97.3" r="5.3" fill="#0038ff"/><circle cx="16.6" cy="98.0" r="5.3" fill="#008aff"/><circle cx="26.0" cy="98.7" r="5.3" fill="#faff05"/><circle cx="35.4" cy="99.4" r="5.3" fill="#ffb200"/><circle cx="3.4" cy="104.6" r="5.3" fill="#000fff"/><circle cx="9.3" cy="105.3" r="5.3" fill="#0038ff"/><circle cx="18.7" cy="106.0" r="5.3" fill="#0061ff"/><circle cx="24.6" cy="106.7" r="5.3" fill="#9e0000"/><circle cx="34.0" cy="107.4" r="5.3" fill="#9e0000"/><circle cx="2.0" cy="112.6" r="5.3" fill="#0038ff"/><circle cx="11.4" cy="113.3" r="5.3" fill="#0061ff"/><circle cx="17.3" cy="114.0" r="5.3" fill="#57ffa8"/><circle cx="26.7" cy="114.7" r="5.3" fill="#faff05"/><circle cx="32.6" cy="115.4" r="5.3" fill="#ffb200"/><circle cx="57.3" cy="114.0" r="5.3" fill="#ffdb00"/><circle cx="10.0" cy="121.3" r="5.3" fill="#57ffa8"/><circle cx="19.4" cy="122.0" r="5.3" fill="#05fffa"/><circle cx="59.4" cy="122.0" r="5.3" fill="#80ff80"/><circle cx="8.6" cy="129.3" r="5.3" fill="#a8ff57"/><circle cx="18.0" cy="130.0" r="5.3" fill="#05fffa"/><circle cx="33.3" cy="131.4" r="5.3" fill="#ffdb00"/><circle cx="42.7" cy="128.6" r="5.3" fill="#9e0000"/><circle cx="48.6" cy="129.3" r="5.3" fill="#faff05"/><circle cx="58.0" cy="130.0" r="5.3" fill="#d1ff2e"/><circle cx="1.3" cy="136.6" r="5.3" fill="#008aff"/><circle cx="10.7" cy="137.3" r="5.3" fill="#a8ff57"/><circle cx="16.6" cy="138.0" r="5.3" fill="#00b3ff"/><circle cx="26.0" cy="138.7" r="5.3" fill="#faff05"/><circle cx="35.4" cy="139.4" r="5.3" fill="#00dbff"/><circle cx="41.3" cy="136.6" r="5.3" fill="#00b3ff"/><circle cx="50.7" cy="137.3" r="5.3" fill="#00dbff"/><circle cx="56.6" cy="138.0" r="5.3" fill="#00b3ff"/><circle cx="66.0" cy="138.7" r="5.3" fill="#00b3ff"/></g></g>
<g transform="translate(0.6 0.6)"><use href="#map" clip-path="url(#clip)"/></g>
<text class="ax" x="-32.2" y="218.4" text-anchor="end" textLength="17.6" lengthAdjust="spacingAndGlyphs">22</text>
<circle cx="-27.6" cy="205.1" r="1.3" fill="none" stroke="#262626" stroke-width="0.8"/>
<text class="ax" x="-19.8" y="218.4" textLength="10.2" lengthAdjust="spacingAndGlyphs">N</text>
<text class="ax" x="-32.2" y="204.8" text-anchor="end" textLength="17.6" lengthAdjust="spacingAndGlyphs">24</text>
<circle cx="-27.6" cy="191.5" r="1.3" fill="none" stroke="#262626" stroke-width="0.8"/>
<text class="ax" x="-19.8" y="204.8" textLength="10.2" lengthAdjust="spacingAndGlyphs">N</text>
<text class="ax" x="-32.2" y="191.0" text-anchor="end" textLength="17.6" lengthAdjust="spacingAndGlyphs">26</text>
<circle cx="-27.6" cy="177.7" r="1.3" fill="none" stroke="#262626" stroke-width="0.8"/>
<text class="ax" x="-19.8" y="191.0" textLength="10.2" lengthAdjust="spacingAndGlyphs">N</text>
<text class="ax" x="-32.2" y="177.0" text-anchor="end" textLength="17.6" lengthAdjust="spacingAndGlyphs">28</text>
<circle cx="-27.6" cy="163.7" r="1.3" fill="none" stroke="#262626" stroke-width="0.8"/>
<text class="ax" x="-19.8" y="177.0" textLength="10.2" lengthAdjust="spacingAndGlyphs">N</text>
<text class="ax" x="-32.2" y="162.7" text-anchor="end" textLength="17.6" lengthAdjust="spacingAndGlyphs">30</text>
<circle cx="-27.6" cy="149.4" r="1.3" fill="none" stroke="#262626" stroke-width="0.8"/>
<text class="ax" x="-19.8" y="162.7" textLength="10.2" lengthAdjust="spacingAndGlyphs">N</text>
<text class="ax" x="-32.2" y="148.1" text-anchor="end" textLength="17.6" lengthAdjust="spacingAndGlyphs">32</text>
<circle cx="-27.6" cy="134.8" r="1.3" fill="none" stroke="#262626" stroke-width="0.8"/>
<text class="ax" x="-19.8" y="148.1" textLength="10.2" lengthAdjust="spacingAndGlyphs">N</text>
<text class="ax" x="-32.2" y="133.2" text-anchor="end" textLength="17.6" lengthAdjust="spacingAndGlyphs">34</text>
<circle cx="-27.6" cy="119.9" r="1.3" fill="none" stroke="#262626" stroke-width="0.8"/>
<text class="ax" x="-19.8" y="133.2" textLength="10.2" lengthAdjust="spacingAndGlyphs">N</text>
<text class="ax" x="-32.2" y="117.9" text-anchor="end" textLength="17.6" lengthAdjust="spacingAndGlyphs">36</text>
<circle cx="-27.6" cy="104.6" r="1.3" fill="none" stroke="#262626" stroke-width="0.8"/>
<text class="ax" x="-19.8" y="117.9" textLength="10.2" lengthAdjust="spacingAndGlyphs">N</text>
<text class="ax" x="-32.2" y="102.2" text-anchor="end" textLength="17.6" lengthAdjust="spacingAndGlyphs">38</text>
<circle cx="-27.6" cy="88.9" r="1.3" fill="none" stroke="#262626" stroke-width="0.8"/>
<text class="ax" x="-19.8" y="102.2" textLength="10.2" lengthAdjust="spacingAndGlyphs">N</text>
<text class="ax" x="-32.2" y="86.1" text-anchor="end" textLength="17.6" lengthAdjust="spacingAndGlyphs">40</text>
<circle cx="-27.6" cy="72.8" r="1.3" fill="none" stroke="#262626" stroke-width="0.8"/>
<text class="ax" x="-19.8" y="86.1" textLength="10.2" lengthAdjust="spacingAndGlyphs">N</text>
<text class="ax" x="-32.2" y="69.5" text-anchor="end" textLength="17.6" lengthAdjust="spacingAndGlyphs">42</text>
<circle cx="-27.6" cy="56.2" r="1.3" fill="none" stroke="#262626" stroke-width="0.8"/>
<text class="ax" x="-19.8" y="69.5" textLength="10.2" lengthAdjust="spacingAndGlyphs">N</text>
<text class="ax" x="-32.2" y="52.4" text-anchor="end" textLength="17.6" lengthAdjust="spacingAndGlyphs">44</text>
<circle cx="-27.6" cy="39.1" r="1.3" fill="none" stroke="#262626" stroke-width="0.8"/>
<text class="ax" x="-19.8" y="52.4" textLength="10.2" lengthAdjust="spacingAndGlyphs">N</text>
<text class="ax" x="-32.2" y="34.7" text-anchor="end" textLength="17.6" lengthAdjust="spacingAndGlyphs">46</text>
<circle cx="-27.6" cy="21.4" r="1.3" fill="none" stroke="#262626" stroke-width="0.8"/>
<text class="ax" x="-19.8" y="34.7" textLength="10.2" lengthAdjust="spacingAndGlyphs">N</text>
<text class="ax" x="-32.2" y="16.3" text-anchor="end" textLength="17.6" lengthAdjust="spacingAndGlyphs">48</text>
<circle cx="-27.6" cy="3.0" r="1.3" fill="none" stroke="#262626" stroke-width="0.8"/>
<text class="ax" x="-19.8" y="16.3" textLength="10.2" lengthAdjust="spacingAndGlyphs">N</text>
<text class="ax" x="44.4" y="-19.6" text-anchor="end" textLength="25.8" lengthAdjust="spacingAndGlyphs">100</text>
<circle cx="49.3" cy="-32" r="1.4" fill="none" stroke="#262626" stroke-width="0.8"/>
<text class="ax" x="56.7" y="-19.6" textLength="13.6" lengthAdjust="spacingAndGlyphs">W</text>
<text class="ax" x="107.5" y="-19.6" text-anchor="end" textLength="17.2" lengthAdjust="spacingAndGlyphs">90</text>
<circle cx="112.4" cy="-32" r="1.4" fill="none" stroke="#262626" stroke-width="0.8"/>
<text class="ax" x="119.8" y="-19.6" textLength="13.6" lengthAdjust="spacingAndGlyphs">W</text>
<text class="ax" x="170.5" y="-19.6" text-anchor="end" textLength="17.2" lengthAdjust="spacingAndGlyphs">80</text>
<circle cx="175.4" cy="-32" r="1.4" fill="none" stroke="#262626" stroke-width="0.8"/>
<text class="ax" x="182.8" y="-19.6" textLength="13.6" lengthAdjust="spacingAndGlyphs">W</text>
<text class="ax" x="233.5" y="-19.6" text-anchor="end" textLength="17.2" lengthAdjust="spacingAndGlyphs">70</text>
<circle cx="238.4" cy="-32" r="1.4" fill="none" stroke="#262626" stroke-width="0.8"/>
<text class="ax" x="245.8" y="-19.6" textLength="13.6" lengthAdjust="spacingAndGlyphs">W</text>
<text class="st" x="-55.0" y="244.5" textLength="334.4" lengthAdjust="spacingAndGlyphs">SAT 350 hPa RH (Percent)</text>
</g>
<rect x="862.8" y="483.8" width="22.5" height="218.3" fill="url(#jet)" stroke="#1a1a1a" stroke-width="1.1"/>
<path d="M885.3 593.0h-3" stroke="#262626" stroke-width="1"/>
<text class="cb" x="896.2" y="490.8" textLength="40.8" lengthAdjust="spacingAndGlyphs">100</text>
<text class="cb" x="895.4" y="600.5" textLength="26.4" lengthAdjust="spacingAndGlyphs">50</text>
<text class="cb" x="895.1" y="710.1" textLength="13.4" lengthAdjust="spacingAndGlyphs">0</text>
<g transform="translate(1037.50 485.50) scale(1.0038 1.0099)">
<rect x="0" y="0" width="234.1" height="213.1" fill="none" stroke="#262626" stroke-width="1.2"/>
<g clip-path="url(#swath2)"><g filter="url(#bl)"><rect x="-10" y="134" width="9" height="9" fill="#000fff"/><rect x="-2" y="134" width="9" height="9" fill="#000fff"/><rect x="6" y="134" width="9" height="9" fill="#000fff"/><rect x="14" y="134" width="9" height="9" fill="#000fff"/><rect x="22" y="134" width="9" height="9" fill="#57ffa8"/><rect x="30" y="134" width="9" height="9" fill="#0038ff"/><rect x="38" y="134" width="9" height="9" fill="#000fff"/><rect x="46" y="134" width="9" height="9" fill="#000fff"/><rect x="54" y="134" width="9" height="9" fill="#000fff"/><rect x="62" y="134" width="9" height="9" fill="#000fff"/><rect x="70" y="134" width="9" height="9" fill="#000fff"/><rect x="78" y="134" width="9" height="9" fill="#000fff"/><rect x="86" y="134" width="9" height="9" fill="#000fff"/><rect x="-10" y="142" width="9" height="9" fill="#0061ff"/><rect x="-2" y="142" width="9" height="9" fill="#0061ff"/><rect x="6" y="142" width="9" height="9" fill="#000fff"/><rect x="14" y="142" width="9" height="9" fill="#00b3ff"/><rect x="22" y="142" width="9" height="9" fill="#0038ff"/><rect x="30" y="142" width="9" height="9" fill="#000fff"/><rect x="38" y="142" width="9" height="9" fill="#000fff"/><rect x="46" y="142" width="9" height="9" fill="#000fff"/><rect x="54" y="142" width="9" height="9" fill="#000fff"/><rect x="62" y="142" width="9" height="9" fill="#000fff"/><rect x="70" y="142" width="9" height="9" fill="#000fff"/><rect x="78" y="142" width="9" height="9" fill="#000fff"/><rect x="86" y="142" width="9" height="9" fill="#000fff"/><rect x="-10" y="150" width="9" height="9" fill="#0000e6"/><rect x="-2" y="150" width="9" height="9" fill="#0000e6"/><rect x="6" y="150" width="9" height="9" fill="#000fff"/><rect x="14" y="150" width="9" height="9" fill="#000fff"/><rect x="22" y="150" width="9" height="9" fill="#0000e6"/><rect x="30" y="150" width="9" height="9" fill="#000fff"/><rect x="38" y="150" width="9" height="9" fill="#000fff"/><rect x="46" y="150" width="9" height="9" fill="#000fff"/><rect x="54" y="150" width="9" height="9" fill="#000fff"/><rect x="62" y="150" width="9" height="9" fill="#000fff"/><rect x="70" y="150" width="9" height="9" fill="#000fff"/><rect x="78" y="150" width="9" height="9" fill="#000fff"/><rect x="86" y="150" width="9" height="9" fill="#000fff"/><rect x="-10" y="158" width="9" height="9" fill="#0000e6"/><rect x="-2" y="158" width="9" height="9" fill="#0000e6"/><rect x="6" y="158" width="9" height="9" fill="#0000e6"/><rect x="14" y="158" width="9" height="9" fill="#000fff"/><rect x="22" y="158" width="9" height="9" fill="#000fff"/><rect x="30" y="158" width="9" height="9" fill="#0000e6"/><rect x="38" y="158" width="9" height="9" fill="#000fff"/><rect x="46" y="158" width="9" height="9" fill="#000fff"/><rect x="54" y="158" width="9" height="9" fill="#000fff"/><rect x="62" y="158" width="9" height="9" fill="#000fff"/><rect x="70" y="158" width="9" height="9" fill="#000fff"/><rect x="78" y="158" width="9" height="9" fill="#000fff"/><rect x="86" y="158" width="9" height="9" fill="#000fff"/><rect x="-10" y="166" width="9" height="9" fill="#0000e6"/><rect x="-2" y="166" width="9" height="9" fill="#0000e6"/><rect x="6" y="166" width="9" height="9" fill="#0000e6"/><rect x="14" y="166" width="9" height="9" fill="#0000e6"/><rect x="22" y="166" width="9" height="9" fill="#0000e6"/><rect x="30" y="166" width="9" height="9" fill="#000fff"/><rect x="38" y="166" width="9" height="9" fill="#000fff"/><rect x="46" y="166" width="9" height="9" fill="#000fff"/><rect x="54" y="166" width="9" height="9" fill="#000fff"/><rect x="62" y="166" width="9" height="9" fill="#000fff"/><rect x="70" y="166" width="9" height="9" fill="#000fff"/><rect x="78" y="166" width="9" height="9" fill="#000fff"/><rect x="86" y="166" width="9" height="9" fill="#000fff"/><rect x="-10" y="174" width="9" height="9" fill="#0000e6"/><rect x="-2" y="174" width="9" height="9" fill="#0000e6"/><rect x="6" y="174" width="9" height="9" fill="#0000e6"/><rect x="14" y="174" width="9" height="9" fill="#0000e6"/><rect x="22" y="174" width="9" height="9" fill="#0000e6"/><rect x="30" y="174" width="9" height="9" fill="#0000e6"/><rect x="38" y="174" width="9" height="9" fill="#0000e6"/><rect x="46" y="174" width="9" height="9" fill="#000fff"/><rect x="54" y="174" width="9" height="9" fill="#000fff"/><rect x="62" y="174" width="9" height="9" fill="#000fff"/><rect x="70" y="174" width="9" height="9" fill="#000fff"/><rect x="78" y="174" width="9" height="9" fill="#000fff"/><rect x="86" y="174" width="9" height="9" fill="#000fff"/><rect x="-10" y="182" width="9" height="9" fill="#0000e6"/><rect x="-2" y="182" width="9" height="9" fill="#0000e6"/><rect x="6" y="182" width="9" height="9" fill="#0000e6"/><rect x="14" y="182" width="9" height="9" fill="#000fff"/><rect x="22" y="182" width="9" height="9" fill="#000fff"/><rect x="30" y="182" width="9" height="9" fill="#000fff"/><rect x="38" y="182" width="9" height="9" fill="#000fff"/><rect x="46" y="182" width="9" height="9" fill="#000fff"/><rect x="54" y="182" width="9" height="9" fill="#000fff"/><rect x="62" y="182" width="9" height="9" fill="#000fff"/><rect x="70" y="182" width="9" height="9" fill="#000fff"/><rect x="78" y="182" width="9" height="9" fill="#000fff"/><rect x="86" y="182" width="9" height="9" fill="#000fff"/><rect x="-10" y="190" width="9" height="9" fill="#0000e6"/><rect x="-2" y="190" width="9" height="9" fill="#0000e6"/><rect x="6" y="190" width="9" height="9" fill="#0000e6"/><rect x="14" y="190" width="9" height="9" fill="#000fff"/><rect x="22" y="190" width="9" height="9" fill="#000fff"/><rect x="30" y="190" width="9" height="9" fill="#000fff"/><rect x="38" y="190" width="9" height="9" fill="#000fff"/><rect x="46" y="190" width="9" height="9" fill="#000fff"/><rect x="54" y="190" width="9" height="9" fill="#000fff"/><rect x="62" y="190" width="9" height="9" fill="#000fff"/><rect x="70" y="190" width="9" height="9" fill="#000fff"/><rect x="78" y="190" width="9" height="9" fill="#000fff"/><rect x="86" y="190" width="9" height="9" fill="#000fff"/></g><g filter="url(#bl2)"><circle cx="40.6" cy="0.6" r="5.3" fill="#ffdb00"/><circle cx="2.7" cy="8.6" r="5.3" fill="#57ffa8"/><circle cx="8.6" cy="9.3" r="5.3" fill="#a8ff57"/><circle cx="18.0" cy="10.0" r="5.3" fill="#05fffa"/><circle cx="27.4" cy="10.7" r="5.3" fill="#008aff"/><circle cx="33.3" cy="11.4" r="5.3" fill="#57ffa8"/><circle cx="1.3" cy="16.6" r="5.3" fill="#00b3ff"/><circle cx="10.7" cy="17.3" r="5.3" fill="#008aff"/><circle cx="16.6" cy="18.0" r="5.3" fill="#0061ff"/><circle cx="26.0" cy="18.7" r="5.3" fill="#00dbff"/><circle cx="3.4" cy="24.6" r="5.3" fill="#000fff"/><circle cx="9.3" cy="25.3" r="5.3" fill="#0038ff"/><circle cx="18.7" cy="26.0" r="5.3" fill="#008aff"/><circle cx="49.3" cy="25.3" r="5.3" fill="#57ffa8"/><circle cx="2.0" cy="32.6" r="5.3" fill="#000fff"/><circle cx="11.4" cy="33.3" r="5.3" fill="#008aff"/><circle cx="32.6" cy="35.4" r="5.3" fill="#008aff"/><circle cx="42.0" cy="32.6" r="5.3" fill="#00b3ff"/><circle cx="51.4" cy="33.3" r="5.3" fill="#57ffa8"/><circle cx="0.6" cy="40.6" r="5.3" fill="#000fff"/><circle cx="10.0" cy="41.3" r="5.3" fill="#d1ff2e"/><circle cx="25.3" cy="42.7" r="5.3" fill="#05fffa"/><circle cx="34.7" cy="43.4" r="5.3" fill="#05fffa"/><circle cx="40.6" cy="40.6" r="5.3" fill="#2effd1"/><circle cx="50.0" cy="41.3" r="5.3" fill="#05fffa"/><circle cx="2.7" cy="48.6" r="5.3" fill="#008aff"/><circle cx="27.4" cy="50.7" r="5.3" fill="#2effd1"/><circle cx="33.3" cy="51.4" r="5.3" fill="#05fffa"/><circle cx="42.7" cy="48.6" r="5.3" fill="#05fffa"/><circle cx="48.6" cy="49.3" r="5.3" fill="#05fffa"/><circle cx="1.3" cy="56.6" r="5.3" fill="#00b3ff"/><circle cx="10.7" cy="57.3" r="5.3" fill="#80ff80"/><circle cx="16.6" cy="58.0" r="5.3" fill="#57ffa8"/><circle cx="3.4" cy="64.6" r="5.3" fill="#05fffa"/><circle cx="9.3" cy="65.3" r="5.3" fill="#2effd1"/><circle cx="18.7" cy="66.0" r="5.3" fill="#a8ff57"/><circle cx="24.6" cy="66.7" r="5.3" fill="#008aff"/><circle cx="11.4" cy="73.3" r="5.3" fill="#008aff"/><circle cx="17.3" cy="74.0" r="5.3" fill="#00dbff"/><circle cx="26.7" cy="74.7" r="5.3" fill="#05fffa"/><circle cx="10.0" cy="81.3" r="5.3" fill="#0038ff"/><circle cx="19.4" cy="82.0" r="5.3" fill="#00b3ff"/><circle cx="2.7" cy="88.6" r="5.3" fill="#05fffa"/><circle cx="8.6" cy="89.3" r="5.3" fill="#2effd1"/><circle cx="18.0" cy="90.0" r="5.3" fill="#57ffa8"/><circle cx="33.3" cy="91.4" r="5.3" fill="#ffb200"/><circle cx="1.3" cy="96.6" r="5.3" fill="#2effd1"/><circle cx="10.7" cy="97.3" r="5.3" fill="#0061ff"/><circle cx="16.6" cy="98.0" r="5.3" fill="#0038ff"/><circle cx="35.4" cy="99.4" r="5.3" fill="#ffb200"/><circle cx="3.4" cy="104.6" r="5.3" fill="#00b3ff"/><circle cx="9.3" cy="105.3" r="5.3" fill="#0038ff"/><circle cx="18.7" cy="106.0" r="5.3" fill="#000fff"/><circle cx="2.0" cy="112.6" r="5.3" fill="#008aff"/><circle cx="11.4" cy="113.3" r="5.3" fill="#0038ff"/><circle cx="26.7" cy="114.7" r="5.3" fill="#f00000"/><circle cx="32.6" cy="115.4" r="5.3" fill="#faff05"/><circle cx="57.3" cy="114.0" r="5.3" fill="#a8ff57"/><circle cx="10.0" cy="121.3" r="5.3" fill="#ffb200"/><circle cx="19.4" cy="122.0" r="5.3" fill="#05fffa"/><circle cx="25.3" cy="122.7" r="5.3" fill="#05fffa"/><circle cx="59.4" cy="122.0" r="5.3" fill="#a8ff57"/><circle cx="8.6" cy="129.3" r="5.3" fill="#2effd1"/><circle cx="18.0" cy="130.0" r="5.3" fill="#05fffa"/><circle cx="42.7" cy="128.6" r="5.3" fill="#000fff"/><circle cx="48.6" cy="129.3" r="5.3" fill="#000fff"/><circle cx="58.0" cy="130.0" r="5.3" fill="#0038ff"/></g></g>
<g transform="translate(0.6 0.6)"><use href="#map" clip-path="url(#clip)"/></g>
<text class="ax" x="-32.2" y="218.4" text-anchor="end" textLength="17.6" lengthAdjust="spacingAndGlyphs">22</text>
<circle cx="-27.6" cy="205.1" r="1.3" fill="none" stroke="#262626" stroke-width="0.8"/>
<text class="ax" x="-19.8" y="218.4" textLength="10.2" lengthAdjust="spacingAndGlyphs">N</text>
<text class="ax" x="-32.2" y="204.8" text-anchor="end" textLength="17.6" lengthAdjust="spacingAndGlyphs">24</text>
<circle cx="-27.6" cy="191.5" r="1.3" fill="none" stroke="#262626" stroke-width="0.8"/>
<text class="ax" x="-19.8" y="204.8" textLength="10.2" lengthAdjust="spacingAndGlyphs">N</text>
<text class="ax" x="-32.2" y="191.0" text-anchor="end" textLength="17.6" lengthAdjust="spacingAndGlyphs">26</text>
<circle cx="-27.6" cy="177.7" r="1.3" fill="none" stroke="#262626" stroke-width="0.8"/>
<text class="ax" x="-19.8" y="191.0" textLength="10.2" lengthAdjust="spacingAndGlyphs">N</text>
<text class="ax" x="-32.2" y="177.0" text-anchor="end" textLength="17.6" lengthAdjust="spacingAndGlyphs">28</text>
<circle cx="-27.6" cy="163.7" r="1.3" fill="none" stroke="#262626" stroke-width="0.8"/>
<text class="ax" x="-19.8" y="177.0" textLength="10.2" lengthAdjust="spacingAndGlyphs">N</text>
<text class="ax" x="-32.2" y="162.7" text-anchor="end" textLength="17.6" lengthAdjust="spacingAndGlyphs">30</text>
<circle cx="-27.6" cy="149.4" r="1.3" fill="none" stroke="#262626" stroke-width="0.8"/>
<text class="ax" x="-19.8" y="162.7" textLength="10.2" lengthAdjust="spacingAndGlyphs">N</text>
<text class="ax" x="-32.2" y="148.1" text-anchor="end" textLength="17.6" lengthAdjust="spacingAndGlyphs">32</text>
<circle cx="-27.6" cy="134.8" r="1.3" fill="none" stroke="#262626" stroke-width="0.8"/>
<text class="ax" x="-19.8" y="148.1" textLength="10.2" lengthAdjust="spacingAndGlyphs">N</text>
<text class="ax" x="-32.2" y="133.2" text-anchor="end" textLength="17.6" lengthAdjust="spacingAndGlyphs">34</text>
<circle cx="-27.6" cy="119.9" r="1.3" fill="none" stroke="#262626" stroke-width="0.8"/>
<text class="ax" x="-19.8" y="133.2" textLength="10.2" lengthAdjust="spacingAndGlyphs">N</text>
<text class="ax" x="-32.2" y="117.9" text-anchor="end" textLength="17.6" lengthAdjust="spacingAndGlyphs">36</text>
<circle cx="-27.6" cy="104.6" r="1.3" fill="none" stroke="#262626" stroke-width="0.8"/>
<text class="ax" x="-19.8" y="117.9" textLength="10.2" lengthAdjust="spacingAndGlyphs">N</text>
<text class="ax" x="-32.2" y="102.2" text-anchor="end" textLength="17.6" lengthAdjust="spacingAndGlyphs">38</text>
<circle cx="-27.6" cy="88.9" r="1.3" fill="none" stroke="#262626" stroke-width="0.8"/>
<text class="ax" x="-19.8" y="102.2" textLength="10.2" lengthAdjust="spacingAndGlyphs">N</text>
<text class="ax" x="-32.2" y="86.1" text-anchor="end" textLength="17.6" lengthAdjust="spacingAndGlyphs">40</text>
<circle cx="-27.6" cy="72.8" r="1.3" fill="none" stroke="#262626" stroke-width="0.8"/>
<text class="ax" x="-19.8" y="86.1" textLength="10.2" lengthAdjust="spacingAndGlyphs">N</text>
<text class="ax" x="-32.2" y="69.5" text-anchor="end" textLength="17.6" lengthAdjust="spacingAndGlyphs">42</text>
<circle cx="-27.6" cy="56.2" r="1.3" fill="none" stroke="#262626" stroke-width="0.8"/>
<text class="ax" x="-19.8" y="69.5" textLength="10.2" lengthAdjust="spacingAndGlyphs">N</text>
<text class="ax" x="-32.2" y="52.4" text-anchor="end" textLength="17.6" lengthAdjust="spacingAndGlyphs">44</text>
<circle cx="-27.6" cy="39.1" r="1.3" fill="none" stroke="#262626" stroke-width="0.8"/>
<text class="ax" x="-19.8" y="52.4" textLength="10.2" lengthAdjust="spacingAndGlyphs">N</text>
<text class="ax" x="-32.2" y="34.7" text-anchor="end" textLength="17.6" lengthAdjust="spacingAndGlyphs">46</text>
<circle cx="-27.6" cy="21.4" r="1.3" fill="none" stroke="#262626" stroke-width="0.8"/>
<text class="ax" x="-19.8" y="34.7" textLength="10.2" lengthAdjust="spacingAndGlyphs">N</text>
<text class="ax" x="-32.2" y="16.3" text-anchor="end" textLength="17.6" lengthAdjust="spacingAndGlyphs">48</text>
<circle cx="-27.6" cy="3.0" r="1.3" fill="none" stroke="#262626" stroke-width="0.8"/>
<text class="ax" x="-19.8" y="16.3" textLength="10.2" lengthAdjust="spacingAndGlyphs">N</text>
<text class="ax" x="44.4" y="-19.6" text-anchor="end" textLength="25.8" lengthAdjust="spacingAndGlyphs">100</text>
<circle cx="49.3" cy="-32" r="1.4" fill="none" stroke="#262626" stroke-width="0.8"/>
<text class="ax" x="56.7" y="-19.6" textLength="13.6" lengthAdjust="spacingAndGlyphs">W</text>
<text class="ax" x="107.5" y="-19.6" text-anchor="end" textLength="17.2" lengthAdjust="spacingAndGlyphs">90</text>
<circle cx="112.4" cy="-32" r="1.4" fill="none" stroke="#262626" stroke-width="0.8"/>
<text class="ax" x="119.8" y="-19.6" textLength="13.6" lengthAdjust="spacingAndGlyphs">W</text>
<text class="ax" x="170.5" y="-19.6" text-anchor="end" textLength="17.2" lengthAdjust="spacingAndGlyphs">80</text>
<circle cx="175.4" cy="-32" r="1.4" fill="none" stroke="#262626" stroke-width="0.8"/>
<text class="ax" x="182.8" y="-19.6" textLength="13.6" lengthAdjust="spacingAndGlyphs">W</text>
<text class="ax" x="233.5" y="-19.6" text-anchor="end" textLength="17.2" lengthAdjust="spacingAndGlyphs">70</text>
<circle cx="238.4" cy="-32" r="1.4" fill="none" stroke="#262626" stroke-width="0.8"/>
<text class="ax" x="245.8" y="-19.6" textLength="13.6" lengthAdjust="spacingAndGlyphs">W</text>
<text class="st" x="-55.0" y="244.5" textLength="334.4" lengthAdjust="spacingAndGlyphs">SAT 400 hPa RH (Percent)</text>
</g>
<rect x="1285.6" y="483.7" width="22.5" height="218.3" fill="url(#jet)" stroke="#1a1a1a" stroke-width="1.1"/>
<path d="M1308.1 592.9h-3" stroke="#262626" stroke-width="1"/>
<text class="cb" x="1319.0" y="490.7" textLength="40.8" lengthAdjust="spacingAndGlyphs">100</text>
<text class="cb" x="1318.2" y="600.4" textLength="26.4" lengthAdjust="spacingAndGlyphs">50</text>
<text class="cb" x="1317.9" y="710.0" textLength="13.4" lengthAdjust="spacingAndGlyphs">0</text>
</svg>
</body></html>
